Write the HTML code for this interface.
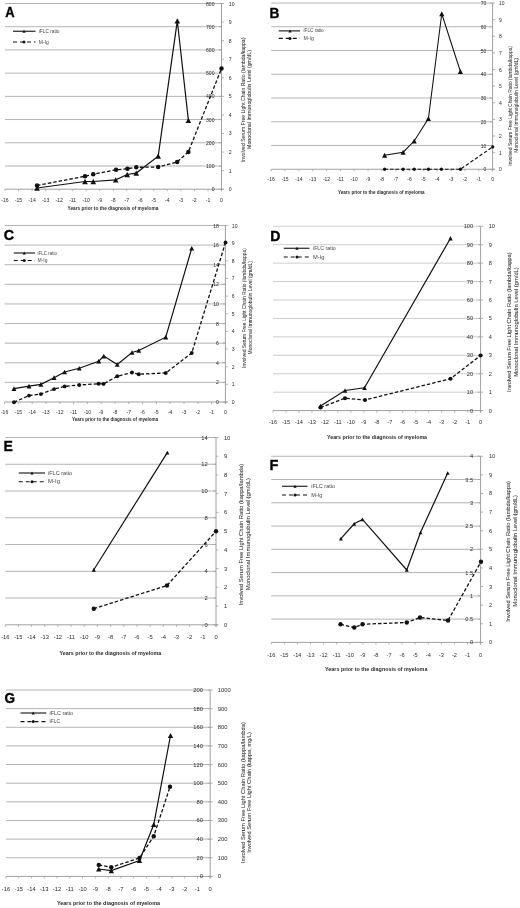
<!DOCTYPE html>
<html><head><meta charset="utf-8"><style>
html,body{margin:0;padding:0;background:#fff;}
svg{display:block;filter:grayscale(1);}
text{font-family:"Liberation Sans", sans-serif;}
</style></head><body>
<svg width="520" height="908" viewBox="0 0 520 908">
<rect width="520" height="908" fill="#fff"/>
<line x1="5" y1="165.99" x2="221.5" y2="165.99" stroke="#b4b4b4" stroke-width="1"/>
<line x1="5" y1="142.77" x2="221.5" y2="142.77" stroke="#b4b4b4" stroke-width="1"/>
<line x1="5" y1="119.56" x2="221.5" y2="119.56" stroke="#b4b4b4" stroke-width="1"/>
<line x1="5" y1="96.35" x2="221.5" y2="96.35" stroke="#b4b4b4" stroke-width="1"/>
<line x1="5" y1="73.14" x2="221.5" y2="73.14" stroke="#b4b4b4" stroke-width="1"/>
<line x1="5" y1="49.93" x2="221.5" y2="49.93" stroke="#b4b4b4" stroke-width="1"/>
<line x1="5" y1="26.71" x2="221.5" y2="26.71" stroke="#b4b4b4" stroke-width="1"/>
<line x1="5" y1="3.5" x2="221.5" y2="3.5" stroke="#b4b4b4" stroke-width="1"/>
<line x1="5" y1="189.2" x2="223.5" y2="189.2" stroke="#a0a0a0" stroke-width="1"/>
<line x1="5" y1="189.2" x2="5" y2="191.2" stroke="#a0a0a0" stroke-width="0.8"/>
<line x1="18.53" y1="189.2" x2="18.53" y2="191.2" stroke="#a0a0a0" stroke-width="0.8"/>
<line x1="32.06" y1="189.2" x2="32.06" y2="191.2" stroke="#a0a0a0" stroke-width="0.8"/>
<line x1="45.59" y1="189.2" x2="45.59" y2="191.2" stroke="#a0a0a0" stroke-width="0.8"/>
<line x1="59.12" y1="189.2" x2="59.12" y2="191.2" stroke="#a0a0a0" stroke-width="0.8"/>
<line x1="72.66" y1="189.2" x2="72.66" y2="191.2" stroke="#a0a0a0" stroke-width="0.8"/>
<line x1="86.19" y1="189.2" x2="86.19" y2="191.2" stroke="#a0a0a0" stroke-width="0.8"/>
<line x1="99.72" y1="189.2" x2="99.72" y2="191.2" stroke="#a0a0a0" stroke-width="0.8"/>
<line x1="113.25" y1="189.2" x2="113.25" y2="191.2" stroke="#a0a0a0" stroke-width="0.8"/>
<line x1="126.78" y1="189.2" x2="126.78" y2="191.2" stroke="#a0a0a0" stroke-width="0.8"/>
<line x1="140.31" y1="189.2" x2="140.31" y2="191.2" stroke="#a0a0a0" stroke-width="0.8"/>
<line x1="153.84" y1="189.2" x2="153.84" y2="191.2" stroke="#a0a0a0" stroke-width="0.8"/>
<line x1="167.38" y1="189.2" x2="167.38" y2="191.2" stroke="#a0a0a0" stroke-width="0.8"/>
<line x1="180.91" y1="189.2" x2="180.91" y2="191.2" stroke="#a0a0a0" stroke-width="0.8"/>
<line x1="194.44" y1="189.2" x2="194.44" y2="191.2" stroke="#a0a0a0" stroke-width="0.8"/>
<line x1="207.97" y1="189.2" x2="207.97" y2="191.2" stroke="#a0a0a0" stroke-width="0.8"/>
<line x1="221.5" y1="189.2" x2="221.5" y2="191.2" stroke="#a0a0a0" stroke-width="0.8"/>
<line x1="221.5" y1="3.5" x2="221.5" y2="191.2" stroke="#a0a0a0" stroke-width="1"/>
<line x1="219" y1="189.2" x2="221.5" y2="189.2" stroke="#a0a0a0" stroke-width="0.8"/>
<text x="214.5" y="189.2" font-size="5.1" text-anchor="end" font-weight="normal" fill="#2a2a2a" dominant-baseline="central" >0</text>
<line x1="219" y1="165.99" x2="221.5" y2="165.99" stroke="#a0a0a0" stroke-width="0.8"/>
<text x="214.5" y="165.99" font-size="5.1" text-anchor="end" font-weight="normal" fill="#2a2a2a" dominant-baseline="central" >100</text>
<line x1="219" y1="142.77" x2="221.5" y2="142.77" stroke="#a0a0a0" stroke-width="0.8"/>
<text x="214.5" y="142.77" font-size="5.1" text-anchor="end" font-weight="normal" fill="#2a2a2a" dominant-baseline="central" >200</text>
<line x1="219" y1="119.56" x2="221.5" y2="119.56" stroke="#a0a0a0" stroke-width="0.8"/>
<text x="214.5" y="119.56" font-size="5.1" text-anchor="end" font-weight="normal" fill="#2a2a2a" dominant-baseline="central" >300</text>
<line x1="219" y1="96.35" x2="221.5" y2="96.35" stroke="#a0a0a0" stroke-width="0.8"/>
<text x="214.5" y="96.35" font-size="5.1" text-anchor="end" font-weight="normal" fill="#2a2a2a" dominant-baseline="central" >400</text>
<line x1="219" y1="73.14" x2="221.5" y2="73.14" stroke="#a0a0a0" stroke-width="0.8"/>
<text x="214.5" y="73.14" font-size="5.1" text-anchor="end" font-weight="normal" fill="#2a2a2a" dominant-baseline="central" >500</text>
<line x1="219" y1="49.93" x2="221.5" y2="49.93" stroke="#a0a0a0" stroke-width="0.8"/>
<text x="214.5" y="49.93" font-size="5.1" text-anchor="end" font-weight="normal" fill="#2a2a2a" dominant-baseline="central" >600</text>
<line x1="219" y1="26.71" x2="221.5" y2="26.71" stroke="#a0a0a0" stroke-width="0.8"/>
<text x="214.5" y="26.71" font-size="5.1" text-anchor="end" font-weight="normal" fill="#2a2a2a" dominant-baseline="central" >700</text>
<line x1="219" y1="3.5" x2="221.5" y2="3.5" stroke="#a0a0a0" stroke-width="0.8"/>
<text x="214.5" y="3.5" font-size="5.1" text-anchor="end" font-weight="normal" fill="#2a2a2a" dominant-baseline="central" >800</text>
<line x1="221.5" y1="189.2" x2="224" y2="189.2" stroke="#a0a0a0" stroke-width="0.8"/>
<text x="228.8" y="189.2" font-size="5.1" text-anchor="start" font-weight="normal" fill="#2a2a2a" dominant-baseline="central" >0</text>
<line x1="221.5" y1="170.63" x2="224" y2="170.63" stroke="#a0a0a0" stroke-width="0.8"/>
<text x="228.8" y="170.63" font-size="5.1" text-anchor="start" font-weight="normal" fill="#2a2a2a" dominant-baseline="central" >1</text>
<line x1="221.5" y1="152.06" x2="224" y2="152.06" stroke="#a0a0a0" stroke-width="0.8"/>
<text x="228.8" y="152.06" font-size="5.1" text-anchor="start" font-weight="normal" fill="#2a2a2a" dominant-baseline="central" >2</text>
<line x1="221.5" y1="133.49" x2="224" y2="133.49" stroke="#a0a0a0" stroke-width="0.8"/>
<text x="228.8" y="133.49" font-size="5.1" text-anchor="start" font-weight="normal" fill="#2a2a2a" dominant-baseline="central" >3</text>
<line x1="221.5" y1="114.92" x2="224" y2="114.92" stroke="#a0a0a0" stroke-width="0.8"/>
<text x="228.8" y="114.92" font-size="5.1" text-anchor="start" font-weight="normal" fill="#2a2a2a" dominant-baseline="central" >4</text>
<line x1="221.5" y1="96.35" x2="224" y2="96.35" stroke="#a0a0a0" stroke-width="0.8"/>
<text x="228.8" y="96.35" font-size="5.1" text-anchor="start" font-weight="normal" fill="#2a2a2a" dominant-baseline="central" >5</text>
<line x1="221.5" y1="77.78" x2="224" y2="77.78" stroke="#a0a0a0" stroke-width="0.8"/>
<text x="228.8" y="77.78" font-size="5.1" text-anchor="start" font-weight="normal" fill="#2a2a2a" dominant-baseline="central" >6</text>
<line x1="221.5" y1="59.21" x2="224" y2="59.21" stroke="#a0a0a0" stroke-width="0.8"/>
<text x="228.8" y="59.21" font-size="5.1" text-anchor="start" font-weight="normal" fill="#2a2a2a" dominant-baseline="central" >7</text>
<line x1="221.5" y1="40.64" x2="224" y2="40.64" stroke="#a0a0a0" stroke-width="0.8"/>
<text x="228.8" y="40.64" font-size="5.1" text-anchor="start" font-weight="normal" fill="#2a2a2a" dominant-baseline="central" >8</text>
<line x1="221.5" y1="22.07" x2="224" y2="22.07" stroke="#a0a0a0" stroke-width="0.8"/>
<text x="228.8" y="22.07" font-size="5.1" text-anchor="start" font-weight="normal" fill="#2a2a2a" dominant-baseline="central" >9</text>
<line x1="221.5" y1="3.5" x2="224" y2="3.5" stroke="#a0a0a0" stroke-width="0.8"/>
<text x="228.8" y="3.5" font-size="5.1" text-anchor="start" font-weight="normal" fill="#2a2a2a" dominant-baseline="central" >10</text>
<text x="5" y="199.5" font-size="5.1" text-anchor="middle" font-weight="normal" fill="#2a2a2a" dominant-baseline="central" >-16</text>
<text x="18.53" y="199.5" font-size="5.1" text-anchor="middle" font-weight="normal" fill="#2a2a2a" dominant-baseline="central" >-15</text>
<text x="32.06" y="199.5" font-size="5.1" text-anchor="middle" font-weight="normal" fill="#2a2a2a" dominant-baseline="central" >-14</text>
<text x="45.59" y="199.5" font-size="5.1" text-anchor="middle" font-weight="normal" fill="#2a2a2a" dominant-baseline="central" >-13</text>
<text x="59.12" y="199.5" font-size="5.1" text-anchor="middle" font-weight="normal" fill="#2a2a2a" dominant-baseline="central" >-12</text>
<text x="72.66" y="199.5" font-size="5.1" text-anchor="middle" font-weight="normal" fill="#2a2a2a" dominant-baseline="central" >-11</text>
<text x="86.19" y="199.5" font-size="5.1" text-anchor="middle" font-weight="normal" fill="#2a2a2a" dominant-baseline="central" >-10</text>
<text x="99.72" y="199.5" font-size="5.1" text-anchor="middle" font-weight="normal" fill="#2a2a2a" dominant-baseline="central" >-9</text>
<text x="113.25" y="199.5" font-size="5.1" text-anchor="middle" font-weight="normal" fill="#2a2a2a" dominant-baseline="central" >-8</text>
<text x="126.78" y="199.5" font-size="5.1" text-anchor="middle" font-weight="normal" fill="#2a2a2a" dominant-baseline="central" >-7</text>
<text x="140.31" y="199.5" font-size="5.1" text-anchor="middle" font-weight="normal" fill="#2a2a2a" dominant-baseline="central" >-6</text>
<text x="153.84" y="199.5" font-size="5.1" text-anchor="middle" font-weight="normal" fill="#2a2a2a" dominant-baseline="central" >-5</text>
<text x="167.38" y="199.5" font-size="5.1" text-anchor="middle" font-weight="normal" fill="#2a2a2a" dominant-baseline="central" >-4</text>
<text x="180.91" y="199.5" font-size="5.1" text-anchor="middle" font-weight="normal" fill="#2a2a2a" dominant-baseline="central" >-3</text>
<text x="194.44" y="199.5" font-size="5.1" text-anchor="middle" font-weight="normal" fill="#2a2a2a" dominant-baseline="central" >-2</text>
<text x="207.97" y="199.5" font-size="5.1" text-anchor="middle" font-weight="normal" fill="#2a2a2a" dominant-baseline="central" >-1</text>
<text x="221.5" y="199.5" font-size="5.1" text-anchor="middle" font-weight="normal" fill="#2a2a2a" dominant-baseline="central" >0</text>
<text x="67.5" y="207.95" font-size="6.2" font-weight="bold" fill="#2a2a2a" dominant-baseline="central" textLength="90.8" lengthAdjust="spacingAndGlyphs">Years prior to the diagnosis of myeloma</text>
<text transform="translate(242.95,99.9) rotate(-90)" x="0" y="0" font-size="5.42" text-anchor="middle" fill="#2a2a2a" stroke="#333" stroke-width="0.04" dominant-baseline="central" textLength="124.6" lengthAdjust="spacingAndGlyphs">Involved Serum Free Light Chain Ratio (lambda/kappa)</text>
<text transform="translate(248.5,99.45) rotate(-90)" x="0" y="0" font-size="5.42" text-anchor="middle" fill="#2a2a2a" stroke="#333" stroke-width="0.04" dominant-baseline="central" textLength="98.9" lengthAdjust="spacingAndGlyphs">Monoclonal Immunoglobulin Level (gm/dL)</text>
<text transform="translate(5.13,17.36) scale(0.9011,1)" x="0" y="0" font-size="14.41" font-weight="bold" fill="#000" stroke="#000" stroke-width="0.35">A</text>
<line x1="13" y1="31.25" x2="35.5" y2="31.25" stroke="#111" stroke-width="1.1"/>
<path d="M24,29.73 L25.6,32.77 L22.4,32.77 Z" fill="#111"/>
<text x="38.75" y="31.25" font-size="4.5" text-anchor="start" font-weight="normal" fill="#444" dominant-baseline="central" textLength="20.75" lengthAdjust="spacingAndGlyphs">iFLC ratio</text>
<line x1="13" y1="42" x2="35.5" y2="42" stroke="#111" stroke-width="1.2" stroke-dasharray="4,3"/>
<circle cx="24" cy="42" r="1.5" fill="#111"/>
<text x="38.75" y="42" font-size="4.5" text-anchor="start" font-weight="normal" fill="#444" dominant-baseline="central" textLength="10" lengthAdjust="spacingAndGlyphs">M-Ig</text>
<path d="M37,188 L85,181.5 L93.25,181.5 L115.7,179.85 L127.2,174.5 L136.25,173.1 L158.2,156.2 L177.3,20.8 L188.4,120.4" fill="none" stroke="#111" stroke-width="1.2"/>
<path d="M37,185.5 L85,176.25 L93.25,174.25 L116.05,169.75 L127.4,168.75 L136.25,167.3 L158.2,167.1 L177.2,161.9 L188.4,151.9 L221.5,68.5" fill="none" stroke="#111" stroke-width="1.3" stroke-dasharray="3.5,2"/>
<path d="M37,185.34 L39.8,190.66 L34.2,190.66 Z" fill="#111"/>
<path d="M85,178.84 L87.8,184.16 L82.2,184.16 Z" fill="#111"/>
<path d="M93.25,178.84 L96.05,184.16 L90.45,184.16 Z" fill="#111"/>
<path d="M115.7,177.19 L118.5,182.51 L112.9,182.51 Z" fill="#111"/>
<path d="M127.2,171.84 L130,177.16 L124.4,177.16 Z" fill="#111"/>
<path d="M136.25,170.44 L139.05,175.76 L133.45,175.76 Z" fill="#111"/>
<path d="M158.2,153.54 L161,158.86 L155.4,158.86 Z" fill="#111"/>
<path d="M177.3,18.14 L180.1,23.46 L174.5,23.46 Z" fill="#111"/>
<path d="M188.4,117.74 L191.2,123.06 L185.6,123.06 Z" fill="#111"/>
<circle cx="37" cy="185.5" r="2.25" fill="#111"/>
<circle cx="85" cy="176.25" r="2.25" fill="#111"/>
<circle cx="93.25" cy="174.25" r="2.25" fill="#111"/>
<circle cx="116.05" cy="169.75" r="2.25" fill="#111"/>
<circle cx="127.4" cy="168.75" r="2.25" fill="#111"/>
<circle cx="136.25" cy="167.3" r="2.25" fill="#111"/>
<circle cx="158.2" cy="167.1" r="2.25" fill="#111"/>
<circle cx="177.2" cy="161.9" r="2.25" fill="#111"/>
<circle cx="188.4" cy="151.9" r="2.25" fill="#111"/>
<circle cx="221.5" cy="68.5" r="2.25" fill="#111"/>
<line x1="271.2" y1="145.5" x2="492.6" y2="145.5" stroke="#b4b4b4" stroke-width="1"/>
<line x1="271.2" y1="121.75" x2="492.6" y2="121.75" stroke="#b4b4b4" stroke-width="1"/>
<line x1="271.2" y1="98" x2="492.6" y2="98" stroke="#b4b4b4" stroke-width="1"/>
<line x1="271.2" y1="74.25" x2="492.6" y2="74.25" stroke="#b4b4b4" stroke-width="1"/>
<line x1="271.2" y1="50.5" x2="492.6" y2="50.5" stroke="#b4b4b4" stroke-width="1"/>
<line x1="271.2" y1="26.75" x2="492.6" y2="26.75" stroke="#b4b4b4" stroke-width="1"/>
<line x1="271.2" y1="3" x2="492.6" y2="3" stroke="#b4b4b4" stroke-width="1"/>
<line x1="271.2" y1="169.25" x2="494.6" y2="169.25" stroke="#a0a0a0" stroke-width="1"/>
<line x1="271.2" y1="169.25" x2="271.2" y2="171.25" stroke="#a0a0a0" stroke-width="0.8"/>
<line x1="285.04" y1="169.25" x2="285.04" y2="171.25" stroke="#a0a0a0" stroke-width="0.8"/>
<line x1="298.88" y1="169.25" x2="298.88" y2="171.25" stroke="#a0a0a0" stroke-width="0.8"/>
<line x1="312.71" y1="169.25" x2="312.71" y2="171.25" stroke="#a0a0a0" stroke-width="0.8"/>
<line x1="326.55" y1="169.25" x2="326.55" y2="171.25" stroke="#a0a0a0" stroke-width="0.8"/>
<line x1="340.39" y1="169.25" x2="340.39" y2="171.25" stroke="#a0a0a0" stroke-width="0.8"/>
<line x1="354.23" y1="169.25" x2="354.23" y2="171.25" stroke="#a0a0a0" stroke-width="0.8"/>
<line x1="368.06" y1="169.25" x2="368.06" y2="171.25" stroke="#a0a0a0" stroke-width="0.8"/>
<line x1="381.9" y1="169.25" x2="381.9" y2="171.25" stroke="#a0a0a0" stroke-width="0.8"/>
<line x1="395.74" y1="169.25" x2="395.74" y2="171.25" stroke="#a0a0a0" stroke-width="0.8"/>
<line x1="409.58" y1="169.25" x2="409.58" y2="171.25" stroke="#a0a0a0" stroke-width="0.8"/>
<line x1="423.41" y1="169.25" x2="423.41" y2="171.25" stroke="#a0a0a0" stroke-width="0.8"/>
<line x1="437.25" y1="169.25" x2="437.25" y2="171.25" stroke="#a0a0a0" stroke-width="0.8"/>
<line x1="451.09" y1="169.25" x2="451.09" y2="171.25" stroke="#a0a0a0" stroke-width="0.8"/>
<line x1="464.93" y1="169.25" x2="464.93" y2="171.25" stroke="#a0a0a0" stroke-width="0.8"/>
<line x1="478.76" y1="169.25" x2="478.76" y2="171.25" stroke="#a0a0a0" stroke-width="0.8"/>
<line x1="492.6" y1="169.25" x2="492.6" y2="171.25" stroke="#a0a0a0" stroke-width="0.8"/>
<line x1="492.6" y1="3" x2="492.6" y2="171.25" stroke="#a0a0a0" stroke-width="1"/>
<line x1="490.1" y1="169.25" x2="492.6" y2="169.25" stroke="#a0a0a0" stroke-width="0.8"/>
<text x="486.4" y="169.25" font-size="5" text-anchor="end" font-weight="normal" fill="#2a2a2a" dominant-baseline="central" >0</text>
<line x1="490.1" y1="145.5" x2="492.6" y2="145.5" stroke="#a0a0a0" stroke-width="0.8"/>
<text x="486.4" y="145.5" font-size="5" text-anchor="end" font-weight="normal" fill="#2a2a2a" dominant-baseline="central" >10</text>
<line x1="490.1" y1="121.75" x2="492.6" y2="121.75" stroke="#a0a0a0" stroke-width="0.8"/>
<text x="486.4" y="121.75" font-size="5" text-anchor="end" font-weight="normal" fill="#2a2a2a" dominant-baseline="central" >20</text>
<line x1="490.1" y1="98" x2="492.6" y2="98" stroke="#a0a0a0" stroke-width="0.8"/>
<text x="486.4" y="98" font-size="5" text-anchor="end" font-weight="normal" fill="#2a2a2a" dominant-baseline="central" >30</text>
<line x1="490.1" y1="74.25" x2="492.6" y2="74.25" stroke="#a0a0a0" stroke-width="0.8"/>
<text x="486.4" y="74.25" font-size="5" text-anchor="end" font-weight="normal" fill="#2a2a2a" dominant-baseline="central" >40</text>
<line x1="490.1" y1="50.5" x2="492.6" y2="50.5" stroke="#a0a0a0" stroke-width="0.8"/>
<text x="486.4" y="50.5" font-size="5" text-anchor="end" font-weight="normal" fill="#2a2a2a" dominant-baseline="central" >50</text>
<line x1="490.1" y1="26.75" x2="492.6" y2="26.75" stroke="#a0a0a0" stroke-width="0.8"/>
<text x="486.4" y="26.75" font-size="5" text-anchor="end" font-weight="normal" fill="#2a2a2a" dominant-baseline="central" >60</text>
<line x1="490.1" y1="3" x2="492.6" y2="3" stroke="#a0a0a0" stroke-width="0.8"/>
<text x="486.4" y="3" font-size="5" text-anchor="end" font-weight="normal" fill="#2a2a2a" dominant-baseline="central" >70</text>
<line x1="492.6" y1="169.25" x2="495.1" y2="169.25" stroke="#a0a0a0" stroke-width="0.8"/>
<text x="499.1" y="169.25" font-size="5" text-anchor="start" font-weight="normal" fill="#2a2a2a" dominant-baseline="central" >0</text>
<line x1="492.6" y1="152.62" x2="495.1" y2="152.62" stroke="#a0a0a0" stroke-width="0.8"/>
<text x="499.1" y="152.62" font-size="5" text-anchor="start" font-weight="normal" fill="#2a2a2a" dominant-baseline="central" >1</text>
<line x1="492.6" y1="136" x2="495.1" y2="136" stroke="#a0a0a0" stroke-width="0.8"/>
<text x="499.1" y="136" font-size="5" text-anchor="start" font-weight="normal" fill="#2a2a2a" dominant-baseline="central" >2</text>
<line x1="492.6" y1="119.38" x2="495.1" y2="119.38" stroke="#a0a0a0" stroke-width="0.8"/>
<text x="499.1" y="119.38" font-size="5" text-anchor="start" font-weight="normal" fill="#2a2a2a" dominant-baseline="central" >3</text>
<line x1="492.6" y1="102.75" x2="495.1" y2="102.75" stroke="#a0a0a0" stroke-width="0.8"/>
<text x="499.1" y="102.75" font-size="5" text-anchor="start" font-weight="normal" fill="#2a2a2a" dominant-baseline="central" >4</text>
<line x1="492.6" y1="86.12" x2="495.1" y2="86.12" stroke="#a0a0a0" stroke-width="0.8"/>
<text x="499.1" y="86.12" font-size="5" text-anchor="start" font-weight="normal" fill="#2a2a2a" dominant-baseline="central" >5</text>
<line x1="492.6" y1="69.5" x2="495.1" y2="69.5" stroke="#a0a0a0" stroke-width="0.8"/>
<text x="499.1" y="69.5" font-size="5" text-anchor="start" font-weight="normal" fill="#2a2a2a" dominant-baseline="central" >6</text>
<line x1="492.6" y1="52.88" x2="495.1" y2="52.88" stroke="#a0a0a0" stroke-width="0.8"/>
<text x="499.1" y="52.88" font-size="5" text-anchor="start" font-weight="normal" fill="#2a2a2a" dominant-baseline="central" >7</text>
<line x1="492.6" y1="36.25" x2="495.1" y2="36.25" stroke="#a0a0a0" stroke-width="0.8"/>
<text x="499.1" y="36.25" font-size="5" text-anchor="start" font-weight="normal" fill="#2a2a2a" dominant-baseline="central" >8</text>
<line x1="492.6" y1="19.62" x2="495.1" y2="19.62" stroke="#a0a0a0" stroke-width="0.8"/>
<text x="499.1" y="19.62" font-size="5" text-anchor="start" font-weight="normal" fill="#2a2a2a" dominant-baseline="central" >9</text>
<line x1="492.6" y1="3" x2="495.1" y2="3" stroke="#a0a0a0" stroke-width="0.8"/>
<text x="499.1" y="3" font-size="5" text-anchor="start" font-weight="normal" fill="#2a2a2a" dominant-baseline="central" >10</text>
<text x="271.2" y="178.8" font-size="5" text-anchor="middle" font-weight="normal" fill="#2a2a2a" dominant-baseline="central" >-16</text>
<text x="285.04" y="178.8" font-size="5" text-anchor="middle" font-weight="normal" fill="#2a2a2a" dominant-baseline="central" >-15</text>
<text x="298.88" y="178.8" font-size="5" text-anchor="middle" font-weight="normal" fill="#2a2a2a" dominant-baseline="central" >-14</text>
<text x="312.71" y="178.8" font-size="5" text-anchor="middle" font-weight="normal" fill="#2a2a2a" dominant-baseline="central" >-13</text>
<text x="326.55" y="178.8" font-size="5" text-anchor="middle" font-weight="normal" fill="#2a2a2a" dominant-baseline="central" >-12</text>
<text x="340.39" y="178.8" font-size="5" text-anchor="middle" font-weight="normal" fill="#2a2a2a" dominant-baseline="central" >-11</text>
<text x="354.23" y="178.8" font-size="5" text-anchor="middle" font-weight="normal" fill="#2a2a2a" dominant-baseline="central" >-10</text>
<text x="368.06" y="178.8" font-size="5" text-anchor="middle" font-weight="normal" fill="#2a2a2a" dominant-baseline="central" >-9</text>
<text x="381.9" y="178.8" font-size="5" text-anchor="middle" font-weight="normal" fill="#2a2a2a" dominant-baseline="central" >-8</text>
<text x="395.74" y="178.8" font-size="5" text-anchor="middle" font-weight="normal" fill="#2a2a2a" dominant-baseline="central" >-7</text>
<text x="409.58" y="178.8" font-size="5" text-anchor="middle" font-weight="normal" fill="#2a2a2a" dominant-baseline="central" >-6</text>
<text x="423.41" y="178.8" font-size="5" text-anchor="middle" font-weight="normal" fill="#2a2a2a" dominant-baseline="central" >-5</text>
<text x="437.25" y="178.8" font-size="5" text-anchor="middle" font-weight="normal" fill="#2a2a2a" dominant-baseline="central" >-4</text>
<text x="451.09" y="178.8" font-size="5" text-anchor="middle" font-weight="normal" fill="#2a2a2a" dominant-baseline="central" >-3</text>
<text x="464.93" y="178.8" font-size="5" text-anchor="middle" font-weight="normal" fill="#2a2a2a" dominant-baseline="central" >-2</text>
<text x="478.76" y="178.8" font-size="5" text-anchor="middle" font-weight="normal" fill="#2a2a2a" dominant-baseline="central" >-1</text>
<text x="492.6" y="178.8" font-size="5" text-anchor="middle" font-weight="normal" fill="#2a2a2a" dominant-baseline="central" >0</text>
<text x="338" y="191.4" font-size="6.2" font-weight="bold" fill="#2a2a2a" dominant-baseline="central" textLength="86.5" lengthAdjust="spacingAndGlyphs">Years prior to the diagnosis of myeloma</text>
<text transform="translate(509.9,105.8) rotate(-90)" x="0" y="0" font-size="5.21" text-anchor="middle" fill="#2a2a2a" stroke="#333" stroke-width="0.04" dominant-baseline="central" textLength="119.8" lengthAdjust="spacingAndGlyphs">Involved Serum Free Light Chain Ratio (lambda/kappa)</text>
<text transform="translate(516.25,105.4) rotate(-90)" x="0" y="0" font-size="5.21" text-anchor="middle" fill="#2a2a2a" stroke="#333" stroke-width="0.04" dominant-baseline="central" textLength="94.8" lengthAdjust="spacingAndGlyphs">Monoclonal Immunoglobulin Level (gm/dL)</text>
<text transform="translate(269.53,18.07) scale(0.9101,1)" x="0" y="0" font-size="15.07" font-weight="bold" fill="#000" stroke="#000" stroke-width="0.35">B</text>
<line x1="278.75" y1="30.9" x2="300" y2="30.9" stroke="#111" stroke-width="1.1"/>
<path d="M290,29.38 L291.6,32.42 L288.4,32.42 Z" fill="#111"/>
<text x="303.5" y="30.9" font-size="4.5" text-anchor="start" font-weight="normal" fill="#444" dominant-baseline="central" textLength="20.2" lengthAdjust="spacingAndGlyphs">iFLC ratio</text>
<line x1="278.75" y1="38.4" x2="300" y2="38.4" stroke="#111" stroke-width="1.2" stroke-dasharray="4,3"/>
<circle cx="290" cy="38.4" r="1.5" fill="#111"/>
<text x="303.5" y="38.4" font-size="4.5" text-anchor="start" font-weight="normal" fill="#444" dominant-baseline="central" textLength="10.4" lengthAdjust="spacingAndGlyphs">M-Ig</text>
<path d="M384.6,155.3 L403.1,152.2 L414.2,141 L428.4,118.5 L441.75,13.75 L460.4,71.5" fill="none" stroke="#111" stroke-width="1.05"/>
<path d="M384.6,169.25 L403.1,169.25 L414.2,169.25 L428.4,169.25 L441.4,169.25 L460.4,169.25 L492.7,146.9" fill="none" stroke="#111" stroke-width="1.1" stroke-dasharray="3.5,2"/>
<path d="M384.6,152.85 L387.18,157.75 L382.02,157.75 Z" fill="#111"/>
<path d="M403.1,149.75 L405.68,154.65 L400.52,154.65 Z" fill="#111"/>
<path d="M414.2,138.55 L416.78,143.45 L411.62,143.45 Z" fill="#111"/>
<path d="M428.4,116.05 L430.98,120.95 L425.82,120.95 Z" fill="#111"/>
<path d="M441.75,11.3 L444.33,16.2 L439.17,16.2 Z" fill="#111"/>
<path d="M460.4,69.05 L462.98,73.95 L457.82,73.95 Z" fill="#111"/>
<circle cx="384.6" cy="169.25" r="1.65" fill="#111"/>
<circle cx="403.1" cy="169.25" r="1.65" fill="#111"/>
<circle cx="414.2" cy="169.25" r="1.65" fill="#111"/>
<circle cx="428.4" cy="169.25" r="1.65" fill="#111"/>
<circle cx="441.4" cy="169.25" r="1.65" fill="#111"/>
<circle cx="460.4" cy="169.25" r="1.65" fill="#111"/>
<circle cx="492.7" cy="146.9" r="1.65" fill="#111"/>
<line x1="4.6" y1="382.39" x2="225.4" y2="382.39" stroke="#b4b4b4" stroke-width="1"/>
<line x1="4.6" y1="362.78" x2="225.4" y2="362.78" stroke="#b4b4b4" stroke-width="1"/>
<line x1="4.6" y1="343.17" x2="225.4" y2="343.17" stroke="#b4b4b4" stroke-width="1"/>
<line x1="4.6" y1="323.56" x2="225.4" y2="323.56" stroke="#b4b4b4" stroke-width="1"/>
<line x1="4.6" y1="303.94" x2="225.4" y2="303.94" stroke="#b4b4b4" stroke-width="1"/>
<line x1="4.6" y1="284.33" x2="225.4" y2="284.33" stroke="#b4b4b4" stroke-width="1"/>
<line x1="4.6" y1="264.72" x2="225.4" y2="264.72" stroke="#b4b4b4" stroke-width="1"/>
<line x1="4.6" y1="245.11" x2="225.4" y2="245.11" stroke="#b4b4b4" stroke-width="1"/>
<line x1="4.6" y1="225.5" x2="225.4" y2="225.5" stroke="#b4b4b4" stroke-width="1"/>
<line x1="4.6" y1="402" x2="227.4" y2="402" stroke="#a0a0a0" stroke-width="1"/>
<line x1="4.6" y1="402" x2="4.6" y2="404" stroke="#a0a0a0" stroke-width="0.8"/>
<line x1="18.4" y1="402" x2="18.4" y2="404" stroke="#a0a0a0" stroke-width="0.8"/>
<line x1="32.2" y1="402" x2="32.2" y2="404" stroke="#a0a0a0" stroke-width="0.8"/>
<line x1="46" y1="402" x2="46" y2="404" stroke="#a0a0a0" stroke-width="0.8"/>
<line x1="59.8" y1="402" x2="59.8" y2="404" stroke="#a0a0a0" stroke-width="0.8"/>
<line x1="73.6" y1="402" x2="73.6" y2="404" stroke="#a0a0a0" stroke-width="0.8"/>
<line x1="87.4" y1="402" x2="87.4" y2="404" stroke="#a0a0a0" stroke-width="0.8"/>
<line x1="101.2" y1="402" x2="101.2" y2="404" stroke="#a0a0a0" stroke-width="0.8"/>
<line x1="115" y1="402" x2="115" y2="404" stroke="#a0a0a0" stroke-width="0.8"/>
<line x1="128.8" y1="402" x2="128.8" y2="404" stroke="#a0a0a0" stroke-width="0.8"/>
<line x1="142.6" y1="402" x2="142.6" y2="404" stroke="#a0a0a0" stroke-width="0.8"/>
<line x1="156.4" y1="402" x2="156.4" y2="404" stroke="#a0a0a0" stroke-width="0.8"/>
<line x1="170.2" y1="402" x2="170.2" y2="404" stroke="#a0a0a0" stroke-width="0.8"/>
<line x1="184" y1="402" x2="184" y2="404" stroke="#a0a0a0" stroke-width="0.8"/>
<line x1="197.8" y1="402" x2="197.8" y2="404" stroke="#a0a0a0" stroke-width="0.8"/>
<line x1="211.6" y1="402" x2="211.6" y2="404" stroke="#a0a0a0" stroke-width="0.8"/>
<line x1="225.4" y1="402" x2="225.4" y2="404" stroke="#a0a0a0" stroke-width="0.8"/>
<line x1="225.4" y1="225.5" x2="225.4" y2="404" stroke="#a0a0a0" stroke-width="1"/>
<line x1="222.9" y1="402" x2="225.4" y2="402" stroke="#a0a0a0" stroke-width="0.8"/>
<text x="218.8" y="402" font-size="5.1" text-anchor="end" font-weight="normal" fill="#2a2a2a" dominant-baseline="central" >0</text>
<line x1="222.9" y1="382.39" x2="225.4" y2="382.39" stroke="#a0a0a0" stroke-width="0.8"/>
<text x="218.8" y="382.39" font-size="5.1" text-anchor="end" font-weight="normal" fill="#2a2a2a" dominant-baseline="central" >2</text>
<line x1="222.9" y1="362.78" x2="225.4" y2="362.78" stroke="#a0a0a0" stroke-width="0.8"/>
<text x="218.8" y="362.78" font-size="5.1" text-anchor="end" font-weight="normal" fill="#2a2a2a" dominant-baseline="central" >4</text>
<line x1="222.9" y1="343.17" x2="225.4" y2="343.17" stroke="#a0a0a0" stroke-width="0.8"/>
<text x="218.8" y="343.17" font-size="5.1" text-anchor="end" font-weight="normal" fill="#2a2a2a" dominant-baseline="central" >6</text>
<line x1="222.9" y1="323.56" x2="225.4" y2="323.56" stroke="#a0a0a0" stroke-width="0.8"/>
<text x="218.8" y="323.56" font-size="5.1" text-anchor="end" font-weight="normal" fill="#2a2a2a" dominant-baseline="central" >8</text>
<line x1="222.9" y1="303.94" x2="225.4" y2="303.94" stroke="#a0a0a0" stroke-width="0.8"/>
<text x="218.8" y="303.94" font-size="5.1" text-anchor="end" font-weight="normal" fill="#2a2a2a" dominant-baseline="central" >10</text>
<line x1="222.9" y1="284.33" x2="225.4" y2="284.33" stroke="#a0a0a0" stroke-width="0.8"/>
<text x="218.8" y="284.33" font-size="5.1" text-anchor="end" font-weight="normal" fill="#2a2a2a" dominant-baseline="central" >12</text>
<line x1="222.9" y1="264.72" x2="225.4" y2="264.72" stroke="#a0a0a0" stroke-width="0.8"/>
<text x="218.8" y="264.72" font-size="5.1" text-anchor="end" font-weight="normal" fill="#2a2a2a" dominant-baseline="central" >14</text>
<line x1="222.9" y1="245.11" x2="225.4" y2="245.11" stroke="#a0a0a0" stroke-width="0.8"/>
<text x="218.8" y="245.11" font-size="5.1" text-anchor="end" font-weight="normal" fill="#2a2a2a" dominant-baseline="central" >16</text>
<line x1="222.9" y1="225.5" x2="225.4" y2="225.5" stroke="#a0a0a0" stroke-width="0.8"/>
<text x="218.8" y="225.5" font-size="5.1" text-anchor="end" font-weight="normal" fill="#2a2a2a" dominant-baseline="central" >18</text>
<line x1="225.4" y1="402" x2="227.9" y2="402" stroke="#a0a0a0" stroke-width="0.8"/>
<text x="231.8" y="402" font-size="5.1" text-anchor="start" font-weight="normal" fill="#2a2a2a" dominant-baseline="central" >0</text>
<line x1="225.4" y1="384.35" x2="227.9" y2="384.35" stroke="#a0a0a0" stroke-width="0.8"/>
<text x="231.8" y="384.35" font-size="5.1" text-anchor="start" font-weight="normal" fill="#2a2a2a" dominant-baseline="central" >1</text>
<line x1="225.4" y1="366.7" x2="227.9" y2="366.7" stroke="#a0a0a0" stroke-width="0.8"/>
<text x="231.8" y="366.7" font-size="5.1" text-anchor="start" font-weight="normal" fill="#2a2a2a" dominant-baseline="central" >2</text>
<line x1="225.4" y1="349.05" x2="227.9" y2="349.05" stroke="#a0a0a0" stroke-width="0.8"/>
<text x="231.8" y="349.05" font-size="5.1" text-anchor="start" font-weight="normal" fill="#2a2a2a" dominant-baseline="central" >3</text>
<line x1="225.4" y1="331.4" x2="227.9" y2="331.4" stroke="#a0a0a0" stroke-width="0.8"/>
<text x="231.8" y="331.4" font-size="5.1" text-anchor="start" font-weight="normal" fill="#2a2a2a" dominant-baseline="central" >4</text>
<line x1="225.4" y1="313.75" x2="227.9" y2="313.75" stroke="#a0a0a0" stroke-width="0.8"/>
<text x="231.8" y="313.75" font-size="5.1" text-anchor="start" font-weight="normal" fill="#2a2a2a" dominant-baseline="central" >5</text>
<line x1="225.4" y1="296.1" x2="227.9" y2="296.1" stroke="#a0a0a0" stroke-width="0.8"/>
<text x="231.8" y="296.1" font-size="5.1" text-anchor="start" font-weight="normal" fill="#2a2a2a" dominant-baseline="central" >6</text>
<line x1="225.4" y1="278.45" x2="227.9" y2="278.45" stroke="#a0a0a0" stroke-width="0.8"/>
<text x="231.8" y="278.45" font-size="5.1" text-anchor="start" font-weight="normal" fill="#2a2a2a" dominant-baseline="central" >7</text>
<line x1="225.4" y1="260.8" x2="227.9" y2="260.8" stroke="#a0a0a0" stroke-width="0.8"/>
<text x="231.8" y="260.8" font-size="5.1" text-anchor="start" font-weight="normal" fill="#2a2a2a" dominant-baseline="central" >8</text>
<line x1="225.4" y1="243.15" x2="227.9" y2="243.15" stroke="#a0a0a0" stroke-width="0.8"/>
<text x="231.8" y="243.15" font-size="5.1" text-anchor="start" font-weight="normal" fill="#2a2a2a" dominant-baseline="central" >9</text>
<line x1="225.4" y1="225.5" x2="227.9" y2="225.5" stroke="#a0a0a0" stroke-width="0.8"/>
<text x="231.8" y="225.5" font-size="5.1" text-anchor="start" font-weight="normal" fill="#2a2a2a" dominant-baseline="central" >10</text>
<text x="4.6" y="412" font-size="5.1" text-anchor="middle" font-weight="normal" fill="#2a2a2a" dominant-baseline="central" >-16</text>
<text x="18.4" y="412" font-size="5.1" text-anchor="middle" font-weight="normal" fill="#2a2a2a" dominant-baseline="central" >-15</text>
<text x="32.2" y="412" font-size="5.1" text-anchor="middle" font-weight="normal" fill="#2a2a2a" dominant-baseline="central" >-14</text>
<text x="46" y="412" font-size="5.1" text-anchor="middle" font-weight="normal" fill="#2a2a2a" dominant-baseline="central" >-13</text>
<text x="59.8" y="412" font-size="5.1" text-anchor="middle" font-weight="normal" fill="#2a2a2a" dominant-baseline="central" >-12</text>
<text x="73.6" y="412" font-size="5.1" text-anchor="middle" font-weight="normal" fill="#2a2a2a" dominant-baseline="central" >-11</text>
<text x="87.4" y="412" font-size="5.1" text-anchor="middle" font-weight="normal" fill="#2a2a2a" dominant-baseline="central" >-10</text>
<text x="101.2" y="412" font-size="5.1" text-anchor="middle" font-weight="normal" fill="#2a2a2a" dominant-baseline="central" >-9</text>
<text x="115" y="412" font-size="5.1" text-anchor="middle" font-weight="normal" fill="#2a2a2a" dominant-baseline="central" >-8</text>
<text x="128.8" y="412" font-size="5.1" text-anchor="middle" font-weight="normal" fill="#2a2a2a" dominant-baseline="central" >-7</text>
<text x="142.6" y="412" font-size="5.1" text-anchor="middle" font-weight="normal" fill="#2a2a2a" dominant-baseline="central" >-6</text>
<text x="156.4" y="412" font-size="5.1" text-anchor="middle" font-weight="normal" fill="#2a2a2a" dominant-baseline="central" >-5</text>
<text x="170.2" y="412" font-size="5.1" text-anchor="middle" font-weight="normal" fill="#2a2a2a" dominant-baseline="central" >-4</text>
<text x="184" y="412" font-size="5.1" text-anchor="middle" font-weight="normal" fill="#2a2a2a" dominant-baseline="central" >-3</text>
<text x="197.8" y="412" font-size="5.1" text-anchor="middle" font-weight="normal" fill="#2a2a2a" dominant-baseline="central" >-2</text>
<text x="211.6" y="412" font-size="5.1" text-anchor="middle" font-weight="normal" fill="#2a2a2a" dominant-baseline="central" >-1</text>
<text x="225.4" y="412" font-size="5.1" text-anchor="middle" font-weight="normal" fill="#2a2a2a" dominant-baseline="central" >0</text>
<text x="72" y="418.4" font-size="6.2" font-weight="bold" fill="#2a2a2a" dominant-baseline="central" textLength="86" lengthAdjust="spacingAndGlyphs">Years prior to the diagnosis of myeloma</text>
<text transform="translate(243.8,308) rotate(-90)" x="0" y="0" font-size="5.21" text-anchor="middle" fill="#2a2a2a" stroke="#333" stroke-width="0.04" dominant-baseline="central" textLength="119.8" lengthAdjust="spacingAndGlyphs">Involved Serum Free Light Chain Ratio (lambda/kappa)</text>
<text transform="translate(249.9,307.75) rotate(-90)" x="0" y="0" font-size="5.21" text-anchor="middle" fill="#2a2a2a" stroke="#333" stroke-width="0.04" dominant-baseline="central" textLength="93.5" lengthAdjust="spacingAndGlyphs">Monoclonal Immunoglobulin Level (gm/dL)</text>
<text transform="translate(3.86,240.17) scale(0.9550,1)" x="0" y="0" font-size="14.99" font-weight="bold" fill="#000" stroke="#000" stroke-width="0.35">C</text>
<line x1="13.75" y1="253" x2="35" y2="253" stroke="#111" stroke-width="1.1"/>
<path d="M24.25,251.48 L25.85,254.52 L22.65,254.52 Z" fill="#111"/>
<text x="37.5" y="253" font-size="4.5" text-anchor="start" font-weight="normal" fill="#444" dominant-baseline="central" textLength="19.5" lengthAdjust="spacingAndGlyphs">iFLC ratio</text>
<line x1="13.75" y1="260.5" x2="35" y2="260.5" stroke="#111" stroke-width="1.2" stroke-dasharray="4,3"/>
<circle cx="24.25" cy="260.5" r="1.5" fill="#111"/>
<text x="37.5" y="260.5" font-size="4.5" text-anchor="start" font-weight="normal" fill="#444" dominant-baseline="central" textLength="10" lengthAdjust="spacingAndGlyphs">M-Ig</text>
<path d="M14,388.7 L29,386.2 L40.9,384.4 L54.1,377.7 L64.6,372 L79.25,368.25 L98.75,361.2 L103.8,356.1 L117.25,364.5 L132,352.5 L138.75,350.5 L165.75,337.2 L191.75,248.25" fill="none" stroke="#111" stroke-width="1.2"/>
<path d="M14,402.2 L29,395.6 L40.9,394.1 L54.1,389.1 L64.6,386.4 L79.25,385 L98.6,383.7 L103.5,383.9 L117.25,376.3 L132,372.5 L138.75,374.25 L165.75,373 L191.75,353 L225.5,242.5" fill="none" stroke="#111" stroke-width="1.3" stroke-dasharray="3.5,2"/>
<path d="M14,386.36 L16.46,391.04 L11.54,391.04 Z" fill="#111"/>
<path d="M29,383.86 L31.46,388.54 L26.54,388.54 Z" fill="#111"/>
<path d="M40.9,382.06 L43.36,386.74 L38.44,386.74 Z" fill="#111"/>
<path d="M54.1,375.36 L56.56,380.04 L51.64,380.04 Z" fill="#111"/>
<path d="M64.6,369.66 L67.06,374.34 L62.14,374.34 Z" fill="#111"/>
<path d="M79.25,365.91 L81.71,370.59 L76.79,370.59 Z" fill="#111"/>
<path d="M98.75,358.86 L101.21,363.54 L96.29,363.54 Z" fill="#111"/>
<path d="M103.8,353.76 L106.26,358.44 L101.34,358.44 Z" fill="#111"/>
<path d="M117.25,362.16 L119.71,366.84 L114.79,366.84 Z" fill="#111"/>
<path d="M132,350.16 L134.46,354.84 L129.54,354.84 Z" fill="#111"/>
<path d="M138.75,348.16 L141.21,352.84 L136.29,352.84 Z" fill="#111"/>
<path d="M165.75,334.86 L168.21,339.54 L163.29,339.54 Z" fill="#111"/>
<path d="M191.75,245.91 L194.21,250.59 L189.29,250.59 Z" fill="#111"/>
<circle cx="14" cy="402.2" r="1.93" fill="#111"/>
<circle cx="29" cy="395.6" r="1.93" fill="#111"/>
<circle cx="40.9" cy="394.1" r="1.93" fill="#111"/>
<circle cx="54.1" cy="389.1" r="1.93" fill="#111"/>
<circle cx="64.6" cy="386.4" r="1.93" fill="#111"/>
<circle cx="79.25" cy="385" r="1.93" fill="#111"/>
<circle cx="98.6" cy="383.7" r="1.93" fill="#111"/>
<circle cx="103.5" cy="383.9" r="1.93" fill="#111"/>
<circle cx="117.25" cy="376.3" r="1.93" fill="#111"/>
<circle cx="132" cy="372.5" r="1.93" fill="#111"/>
<circle cx="138.75" cy="374.25" r="1.93" fill="#111"/>
<circle cx="165.75" cy="373" r="1.93" fill="#111"/>
<circle cx="191.75" cy="353" r="1.93" fill="#111"/>
<circle cx="225.5" cy="242.5" r="1.93" fill="#111"/>
<line x1="273" y1="392.17" x2="480.6" y2="392.17" stroke="#cdcdcd" stroke-width="1"/>
<line x1="273" y1="373.73" x2="480.6" y2="373.73" stroke="#cdcdcd" stroke-width="1"/>
<line x1="273" y1="355.3" x2="480.6" y2="355.3" stroke="#cdcdcd" stroke-width="1"/>
<line x1="273" y1="336.86" x2="480.6" y2="336.86" stroke="#cdcdcd" stroke-width="1"/>
<line x1="273" y1="318.43" x2="480.6" y2="318.43" stroke="#cdcdcd" stroke-width="1"/>
<line x1="273" y1="299.99" x2="480.6" y2="299.99" stroke="#cdcdcd" stroke-width="1"/>
<line x1="273" y1="281.56" x2="480.6" y2="281.56" stroke="#cdcdcd" stroke-width="1"/>
<line x1="273" y1="263.12" x2="480.6" y2="263.12" stroke="#cdcdcd" stroke-width="1"/>
<line x1="273" y1="244.69" x2="480.6" y2="244.69" stroke="#cdcdcd" stroke-width="1"/>
<line x1="273" y1="226.25" x2="480.6" y2="226.25" stroke="#cdcdcd" stroke-width="1"/>
<line x1="273" y1="410.6" x2="482.6" y2="410.6" stroke="#a0a0a0" stroke-width="1"/>
<line x1="273" y1="410.6" x2="273" y2="412.6" stroke="#a0a0a0" stroke-width="0.8"/>
<line x1="285.98" y1="410.6" x2="285.98" y2="412.6" stroke="#a0a0a0" stroke-width="0.8"/>
<line x1="298.95" y1="410.6" x2="298.95" y2="412.6" stroke="#a0a0a0" stroke-width="0.8"/>
<line x1="311.93" y1="410.6" x2="311.93" y2="412.6" stroke="#a0a0a0" stroke-width="0.8"/>
<line x1="324.9" y1="410.6" x2="324.9" y2="412.6" stroke="#a0a0a0" stroke-width="0.8"/>
<line x1="337.88" y1="410.6" x2="337.88" y2="412.6" stroke="#a0a0a0" stroke-width="0.8"/>
<line x1="350.85" y1="410.6" x2="350.85" y2="412.6" stroke="#a0a0a0" stroke-width="0.8"/>
<line x1="363.83" y1="410.6" x2="363.83" y2="412.6" stroke="#a0a0a0" stroke-width="0.8"/>
<line x1="376.8" y1="410.6" x2="376.8" y2="412.6" stroke="#a0a0a0" stroke-width="0.8"/>
<line x1="389.77" y1="410.6" x2="389.77" y2="412.6" stroke="#a0a0a0" stroke-width="0.8"/>
<line x1="402.75" y1="410.6" x2="402.75" y2="412.6" stroke="#a0a0a0" stroke-width="0.8"/>
<line x1="415.73" y1="410.6" x2="415.73" y2="412.6" stroke="#a0a0a0" stroke-width="0.8"/>
<line x1="428.7" y1="410.6" x2="428.7" y2="412.6" stroke="#a0a0a0" stroke-width="0.8"/>
<line x1="441.68" y1="410.6" x2="441.68" y2="412.6" stroke="#a0a0a0" stroke-width="0.8"/>
<line x1="454.65" y1="410.6" x2="454.65" y2="412.6" stroke="#a0a0a0" stroke-width="0.8"/>
<line x1="467.62" y1="410.6" x2="467.62" y2="412.6" stroke="#a0a0a0" stroke-width="0.8"/>
<line x1="480.6" y1="410.6" x2="480.6" y2="412.6" stroke="#a0a0a0" stroke-width="0.8"/>
<line x1="480.6" y1="226.25" x2="480.6" y2="412.6" stroke="#a0a0a0" stroke-width="1"/>
<line x1="478.1" y1="410.6" x2="480.6" y2="410.6" stroke="#a0a0a0" stroke-width="0.8"/>
<text x="473" y="410.6" font-size="5.6" text-anchor="end" font-weight="normal" fill="#2a2a2a" dominant-baseline="central" >0</text>
<line x1="478.1" y1="392.17" x2="480.6" y2="392.17" stroke="#a0a0a0" stroke-width="0.8"/>
<text x="473" y="392.17" font-size="5.6" text-anchor="end" font-weight="normal" fill="#2a2a2a" dominant-baseline="central" >10</text>
<line x1="478.1" y1="373.73" x2="480.6" y2="373.73" stroke="#a0a0a0" stroke-width="0.8"/>
<text x="473" y="373.73" font-size="5.6" text-anchor="end" font-weight="normal" fill="#2a2a2a" dominant-baseline="central" >20</text>
<line x1="478.1" y1="355.3" x2="480.6" y2="355.3" stroke="#a0a0a0" stroke-width="0.8"/>
<text x="473" y="355.3" font-size="5.6" text-anchor="end" font-weight="normal" fill="#2a2a2a" dominant-baseline="central" >30</text>
<line x1="478.1" y1="336.86" x2="480.6" y2="336.86" stroke="#a0a0a0" stroke-width="0.8"/>
<text x="473" y="336.86" font-size="5.6" text-anchor="end" font-weight="normal" fill="#2a2a2a" dominant-baseline="central" >40</text>
<line x1="478.1" y1="318.43" x2="480.6" y2="318.43" stroke="#a0a0a0" stroke-width="0.8"/>
<text x="473" y="318.43" font-size="5.6" text-anchor="end" font-weight="normal" fill="#2a2a2a" dominant-baseline="central" >50</text>
<line x1="478.1" y1="299.99" x2="480.6" y2="299.99" stroke="#a0a0a0" stroke-width="0.8"/>
<text x="473" y="299.99" font-size="5.6" text-anchor="end" font-weight="normal" fill="#2a2a2a" dominant-baseline="central" >60</text>
<line x1="478.1" y1="281.56" x2="480.6" y2="281.56" stroke="#a0a0a0" stroke-width="0.8"/>
<text x="473" y="281.56" font-size="5.6" text-anchor="end" font-weight="normal" fill="#2a2a2a" dominant-baseline="central" >70</text>
<line x1="478.1" y1="263.12" x2="480.6" y2="263.12" stroke="#a0a0a0" stroke-width="0.8"/>
<text x="473" y="263.12" font-size="5.6" text-anchor="end" font-weight="normal" fill="#2a2a2a" dominant-baseline="central" >80</text>
<line x1="478.1" y1="244.69" x2="480.6" y2="244.69" stroke="#a0a0a0" stroke-width="0.8"/>
<text x="473" y="244.69" font-size="5.6" text-anchor="end" font-weight="normal" fill="#2a2a2a" dominant-baseline="central" >90</text>
<line x1="478.1" y1="226.25" x2="480.6" y2="226.25" stroke="#a0a0a0" stroke-width="0.8"/>
<text x="473" y="226.25" font-size="5.6" text-anchor="end" font-weight="normal" fill="#2a2a2a" dominant-baseline="central" >100</text>
<line x1="480.6" y1="410.6" x2="483.1" y2="410.6" stroke="#a0a0a0" stroke-width="0.8"/>
<text x="488.7" y="410.6" font-size="5.6" text-anchor="start" font-weight="normal" fill="#2a2a2a" dominant-baseline="central" >0</text>
<line x1="480.6" y1="392.17" x2="483.1" y2="392.17" stroke="#a0a0a0" stroke-width="0.8"/>
<text x="488.7" y="392.17" font-size="5.6" text-anchor="start" font-weight="normal" fill="#2a2a2a" dominant-baseline="central" >1</text>
<line x1="480.6" y1="373.73" x2="483.1" y2="373.73" stroke="#a0a0a0" stroke-width="0.8"/>
<text x="488.7" y="373.73" font-size="5.6" text-anchor="start" font-weight="normal" fill="#2a2a2a" dominant-baseline="central" >2</text>
<line x1="480.6" y1="355.3" x2="483.1" y2="355.3" stroke="#a0a0a0" stroke-width="0.8"/>
<text x="488.7" y="355.3" font-size="5.6" text-anchor="start" font-weight="normal" fill="#2a2a2a" dominant-baseline="central" >3</text>
<line x1="480.6" y1="336.86" x2="483.1" y2="336.86" stroke="#a0a0a0" stroke-width="0.8"/>
<text x="488.7" y="336.86" font-size="5.6" text-anchor="start" font-weight="normal" fill="#2a2a2a" dominant-baseline="central" >4</text>
<line x1="480.6" y1="318.43" x2="483.1" y2="318.43" stroke="#a0a0a0" stroke-width="0.8"/>
<text x="488.7" y="318.43" font-size="5.6" text-anchor="start" font-weight="normal" fill="#2a2a2a" dominant-baseline="central" >5</text>
<line x1="480.6" y1="299.99" x2="483.1" y2="299.99" stroke="#a0a0a0" stroke-width="0.8"/>
<text x="488.7" y="299.99" font-size="5.6" text-anchor="start" font-weight="normal" fill="#2a2a2a" dominant-baseline="central" >6</text>
<line x1="480.6" y1="281.56" x2="483.1" y2="281.56" stroke="#a0a0a0" stroke-width="0.8"/>
<text x="488.7" y="281.56" font-size="5.6" text-anchor="start" font-weight="normal" fill="#2a2a2a" dominant-baseline="central" >7</text>
<line x1="480.6" y1="263.12" x2="483.1" y2="263.12" stroke="#a0a0a0" stroke-width="0.8"/>
<text x="488.7" y="263.12" font-size="5.6" text-anchor="start" font-weight="normal" fill="#2a2a2a" dominant-baseline="central" >8</text>
<line x1="480.6" y1="244.69" x2="483.1" y2="244.69" stroke="#a0a0a0" stroke-width="0.8"/>
<text x="488.7" y="244.69" font-size="5.6" text-anchor="start" font-weight="normal" fill="#2a2a2a" dominant-baseline="central" >9</text>
<line x1="480.6" y1="226.25" x2="483.1" y2="226.25" stroke="#a0a0a0" stroke-width="0.8"/>
<text x="488.7" y="226.25" font-size="5.6" text-anchor="start" font-weight="normal" fill="#2a2a2a" dominant-baseline="central" >10</text>
<text x="273" y="421.7" font-size="5.6" text-anchor="middle" font-weight="normal" fill="#2a2a2a" dominant-baseline="central" >-16</text>
<text x="285.98" y="421.7" font-size="5.6" text-anchor="middle" font-weight="normal" fill="#2a2a2a" dominant-baseline="central" >-15</text>
<text x="298.95" y="421.7" font-size="5.6" text-anchor="middle" font-weight="normal" fill="#2a2a2a" dominant-baseline="central" >-14</text>
<text x="311.93" y="421.7" font-size="5.6" text-anchor="middle" font-weight="normal" fill="#2a2a2a" dominant-baseline="central" >-13</text>
<text x="324.9" y="421.7" font-size="5.6" text-anchor="middle" font-weight="normal" fill="#2a2a2a" dominant-baseline="central" >-12</text>
<text x="337.88" y="421.7" font-size="5.6" text-anchor="middle" font-weight="normal" fill="#2a2a2a" dominant-baseline="central" >-11</text>
<text x="350.85" y="421.7" font-size="5.6" text-anchor="middle" font-weight="normal" fill="#2a2a2a" dominant-baseline="central" >-10</text>
<text x="363.83" y="421.7" font-size="5.6" text-anchor="middle" font-weight="normal" fill="#2a2a2a" dominant-baseline="central" >-9</text>
<text x="376.8" y="421.7" font-size="5.6" text-anchor="middle" font-weight="normal" fill="#2a2a2a" dominant-baseline="central" >-8</text>
<text x="389.77" y="421.7" font-size="5.6" text-anchor="middle" font-weight="normal" fill="#2a2a2a" dominant-baseline="central" >-7</text>
<text x="402.75" y="421.7" font-size="5.6" text-anchor="middle" font-weight="normal" fill="#2a2a2a" dominant-baseline="central" >-6</text>
<text x="415.73" y="421.7" font-size="5.6" text-anchor="middle" font-weight="normal" fill="#2a2a2a" dominant-baseline="central" >-5</text>
<text x="428.7" y="421.7" font-size="5.6" text-anchor="middle" font-weight="normal" fill="#2a2a2a" dominant-baseline="central" >-4</text>
<text x="441.68" y="421.7" font-size="5.6" text-anchor="middle" font-weight="normal" fill="#2a2a2a" dominant-baseline="central" >-3</text>
<text x="454.65" y="421.7" font-size="5.6" text-anchor="middle" font-weight="normal" fill="#2a2a2a" dominant-baseline="central" >-2</text>
<text x="467.62" y="421.7" font-size="5.6" text-anchor="middle" font-weight="normal" fill="#2a2a2a" dominant-baseline="central" >-1</text>
<text x="480.6" y="421.7" font-size="5.6" text-anchor="middle" font-weight="normal" fill="#2a2a2a" dominant-baseline="central" >0</text>
<text x="327" y="436.65" font-size="6.2" font-weight="bold" fill="#2a2a2a" dominant-baseline="central" textLength="100" lengthAdjust="spacingAndGlyphs">Years prior to the diagnosis of myeloma</text>
<text transform="translate(508.85,322.15) rotate(-90)" x="0" y="0" font-size="6.07" text-anchor="middle" fill="#2a2a2a" stroke="#333" stroke-width="0.04" dominant-baseline="central" textLength="139.5" lengthAdjust="spacingAndGlyphs">Involved Serum Free Light Chain Ratio (lambda/kappa)</text>
<text transform="translate(516.15,322) rotate(-90)" x="0" y="0" font-size="6.07" text-anchor="middle" fill="#2a2a2a" stroke="#333" stroke-width="0.04" dominant-baseline="central" textLength="109.6" lengthAdjust="spacingAndGlyphs">Monoclonal Immunoglobulin Level (gm/dL)</text>
<text transform="translate(270.26,240.56) scale(0.9801,1)" x="0" y="0" font-size="14.34" font-weight="bold" fill="#000" stroke="#000" stroke-width="0.35">D</text>
<line x1="283.75" y1="248.25" x2="309.5" y2="248.25" stroke="#111" stroke-width="1.1"/>
<path d="M297,246.73 L298.6,249.77 L295.4,249.77 Z" fill="#111"/>
<text x="313" y="248.25" font-size="4.5" text-anchor="start" font-weight="normal" fill="#444" dominant-baseline="central" textLength="22.75" lengthAdjust="spacingAndGlyphs">iFLC ratio</text>
<line x1="283.75" y1="257" x2="309.5" y2="257" stroke="#111" stroke-width="1.2" stroke-dasharray="4,3"/>
<circle cx="297" cy="257" r="1.5" fill="#111"/>
<text x="313" y="257" font-size="4.5" text-anchor="start" font-weight="normal" fill="#444" dominant-baseline="central" textLength="11.5" lengthAdjust="spacingAndGlyphs">M-Ig</text>
<path d="M320.5,406 L345,390.5 L364.5,387.75 L450.5,238.25" fill="none" stroke="#111" stroke-width="1.2"/>
<path d="M320.5,407.5 L345,398.25 L365,400 L450.5,378.75 L480.6,355.5" fill="none" stroke="#111" stroke-width="1.3" stroke-dasharray="3.5,2"/>
<path d="M320.5,403.87 L322.74,408.13 L318.26,408.13 Z" fill="#111"/>
<path d="M345,388.37 L347.24,392.63 L342.76,392.63 Z" fill="#111"/>
<path d="M364.5,385.62 L366.74,389.88 L362.26,389.88 Z" fill="#111"/>
<path d="M450.5,236.12 L452.74,240.38 L448.26,240.38 Z" fill="#111"/>
<circle cx="320.5" cy="407.5" r="2.09" fill="#111"/>
<circle cx="345" cy="398.25" r="2.09" fill="#111"/>
<circle cx="365" cy="400" r="2.09" fill="#111"/>
<circle cx="450.5" cy="378.75" r="2.09" fill="#111"/>
<circle cx="480.6" cy="355.5" r="2.09" fill="#111"/>
<line x1="5.2" y1="598.04" x2="216" y2="598.04" stroke="#b4b4b4" stroke-width="1"/>
<line x1="5.2" y1="571.29" x2="216" y2="571.29" stroke="#b4b4b4" stroke-width="1"/>
<line x1="5.2" y1="544.53" x2="216" y2="544.53" stroke="#b4b4b4" stroke-width="1"/>
<line x1="5.2" y1="517.77" x2="216" y2="517.77" stroke="#b4b4b4" stroke-width="1"/>
<line x1="5.2" y1="491.01" x2="216" y2="491.01" stroke="#b4b4b4" stroke-width="1"/>
<line x1="5.2" y1="464.26" x2="216" y2="464.26" stroke="#b4b4b4" stroke-width="1"/>
<line x1="5.2" y1="437.5" x2="216" y2="437.5" stroke="#b4b4b4" stroke-width="1"/>
<line x1="5.2" y1="624.8" x2="218" y2="624.8" stroke="#a0a0a0" stroke-width="1"/>
<line x1="5.2" y1="624.8" x2="5.2" y2="626.8" stroke="#a0a0a0" stroke-width="0.8"/>
<line x1="18.38" y1="624.8" x2="18.38" y2="626.8" stroke="#a0a0a0" stroke-width="0.8"/>
<line x1="31.55" y1="624.8" x2="31.55" y2="626.8" stroke="#a0a0a0" stroke-width="0.8"/>
<line x1="44.73" y1="624.8" x2="44.73" y2="626.8" stroke="#a0a0a0" stroke-width="0.8"/>
<line x1="57.9" y1="624.8" x2="57.9" y2="626.8" stroke="#a0a0a0" stroke-width="0.8"/>
<line x1="71.08" y1="624.8" x2="71.08" y2="626.8" stroke="#a0a0a0" stroke-width="0.8"/>
<line x1="84.25" y1="624.8" x2="84.25" y2="626.8" stroke="#a0a0a0" stroke-width="0.8"/>
<line x1="97.43" y1="624.8" x2="97.43" y2="626.8" stroke="#a0a0a0" stroke-width="0.8"/>
<line x1="110.6" y1="624.8" x2="110.6" y2="626.8" stroke="#a0a0a0" stroke-width="0.8"/>
<line x1="123.78" y1="624.8" x2="123.78" y2="626.8" stroke="#a0a0a0" stroke-width="0.8"/>
<line x1="136.95" y1="624.8" x2="136.95" y2="626.8" stroke="#a0a0a0" stroke-width="0.8"/>
<line x1="150.12" y1="624.8" x2="150.12" y2="626.8" stroke="#a0a0a0" stroke-width="0.8"/>
<line x1="163.3" y1="624.8" x2="163.3" y2="626.8" stroke="#a0a0a0" stroke-width="0.8"/>
<line x1="176.47" y1="624.8" x2="176.47" y2="626.8" stroke="#a0a0a0" stroke-width="0.8"/>
<line x1="189.65" y1="624.8" x2="189.65" y2="626.8" stroke="#a0a0a0" stroke-width="0.8"/>
<line x1="202.82" y1="624.8" x2="202.82" y2="626.8" stroke="#a0a0a0" stroke-width="0.8"/>
<line x1="216" y1="624.8" x2="216" y2="626.8" stroke="#a0a0a0" stroke-width="0.8"/>
<line x1="216" y1="437.5" x2="216" y2="626.8" stroke="#a0a0a0" stroke-width="1"/>
<line x1="213.5" y1="624.8" x2="216" y2="624.8" stroke="#a0a0a0" stroke-width="0.8"/>
<text x="207.8" y="624.8" font-size="5.8" text-anchor="end" font-weight="normal" fill="#2a2a2a" dominant-baseline="central" >0</text>
<line x1="213.5" y1="598.04" x2="216" y2="598.04" stroke="#a0a0a0" stroke-width="0.8"/>
<text x="207.8" y="598.04" font-size="5.8" text-anchor="end" font-weight="normal" fill="#2a2a2a" dominant-baseline="central" >2</text>
<line x1="213.5" y1="571.29" x2="216" y2="571.29" stroke="#a0a0a0" stroke-width="0.8"/>
<text x="207.8" y="571.29" font-size="5.8" text-anchor="end" font-weight="normal" fill="#2a2a2a" dominant-baseline="central" >4</text>
<line x1="213.5" y1="544.53" x2="216" y2="544.53" stroke="#a0a0a0" stroke-width="0.8"/>
<text x="207.8" y="544.53" font-size="5.8" text-anchor="end" font-weight="normal" fill="#2a2a2a" dominant-baseline="central" >6</text>
<line x1="213.5" y1="517.77" x2="216" y2="517.77" stroke="#a0a0a0" stroke-width="0.8"/>
<text x="207.8" y="517.77" font-size="5.8" text-anchor="end" font-weight="normal" fill="#2a2a2a" dominant-baseline="central" >8</text>
<line x1="213.5" y1="491.01" x2="216" y2="491.01" stroke="#a0a0a0" stroke-width="0.8"/>
<text x="207.8" y="491.01" font-size="5.8" text-anchor="end" font-weight="normal" fill="#2a2a2a" dominant-baseline="central" >10</text>
<line x1="213.5" y1="464.26" x2="216" y2="464.26" stroke="#a0a0a0" stroke-width="0.8"/>
<text x="207.8" y="464.26" font-size="5.8" text-anchor="end" font-weight="normal" fill="#2a2a2a" dominant-baseline="central" >12</text>
<line x1="213.5" y1="437.5" x2="216" y2="437.5" stroke="#a0a0a0" stroke-width="0.8"/>
<text x="207.8" y="437.5" font-size="5.8" text-anchor="end" font-weight="normal" fill="#2a2a2a" dominant-baseline="central" >14</text>
<line x1="216" y1="624.8" x2="218.5" y2="624.8" stroke="#a0a0a0" stroke-width="0.8"/>
<text x="223.9" y="624.8" font-size="5.8" text-anchor="start" font-weight="normal" fill="#2a2a2a" dominant-baseline="central" >0</text>
<line x1="216" y1="606.07" x2="218.5" y2="606.07" stroke="#a0a0a0" stroke-width="0.8"/>
<text x="223.9" y="606.07" font-size="5.8" text-anchor="start" font-weight="normal" fill="#2a2a2a" dominant-baseline="central" >1</text>
<line x1="216" y1="587.34" x2="218.5" y2="587.34" stroke="#a0a0a0" stroke-width="0.8"/>
<text x="223.9" y="587.34" font-size="5.8" text-anchor="start" font-weight="normal" fill="#2a2a2a" dominant-baseline="central" >2</text>
<line x1="216" y1="568.61" x2="218.5" y2="568.61" stroke="#a0a0a0" stroke-width="0.8"/>
<text x="223.9" y="568.61" font-size="5.8" text-anchor="start" font-weight="normal" fill="#2a2a2a" dominant-baseline="central" >3</text>
<line x1="216" y1="549.88" x2="218.5" y2="549.88" stroke="#a0a0a0" stroke-width="0.8"/>
<text x="223.9" y="549.88" font-size="5.8" text-anchor="start" font-weight="normal" fill="#2a2a2a" dominant-baseline="central" >4</text>
<line x1="216" y1="531.15" x2="218.5" y2="531.15" stroke="#a0a0a0" stroke-width="0.8"/>
<text x="223.9" y="531.15" font-size="5.8" text-anchor="start" font-weight="normal" fill="#2a2a2a" dominant-baseline="central" >5</text>
<line x1="216" y1="512.42" x2="218.5" y2="512.42" stroke="#a0a0a0" stroke-width="0.8"/>
<text x="223.9" y="512.42" font-size="5.8" text-anchor="start" font-weight="normal" fill="#2a2a2a" dominant-baseline="central" >6</text>
<line x1="216" y1="493.69" x2="218.5" y2="493.69" stroke="#a0a0a0" stroke-width="0.8"/>
<text x="223.9" y="493.69" font-size="5.8" text-anchor="start" font-weight="normal" fill="#2a2a2a" dominant-baseline="central" >7</text>
<line x1="216" y1="474.96" x2="218.5" y2="474.96" stroke="#a0a0a0" stroke-width="0.8"/>
<text x="223.9" y="474.96" font-size="5.8" text-anchor="start" font-weight="normal" fill="#2a2a2a" dominant-baseline="central" >8</text>
<line x1="216" y1="456.23" x2="218.5" y2="456.23" stroke="#a0a0a0" stroke-width="0.8"/>
<text x="223.9" y="456.23" font-size="5.8" text-anchor="start" font-weight="normal" fill="#2a2a2a" dominant-baseline="central" >9</text>
<line x1="216" y1="437.5" x2="218.5" y2="437.5" stroke="#a0a0a0" stroke-width="0.8"/>
<text x="223.9" y="437.5" font-size="5.8" text-anchor="start" font-weight="normal" fill="#2a2a2a" dominant-baseline="central" >10</text>
<text x="5.2" y="637.1" font-size="5.8" text-anchor="middle" font-weight="normal" fill="#2a2a2a" dominant-baseline="central" >-16</text>
<text x="18.38" y="637.1" font-size="5.8" text-anchor="middle" font-weight="normal" fill="#2a2a2a" dominant-baseline="central" >-15</text>
<text x="31.55" y="637.1" font-size="5.8" text-anchor="middle" font-weight="normal" fill="#2a2a2a" dominant-baseline="central" >-14</text>
<text x="44.73" y="637.1" font-size="5.8" text-anchor="middle" font-weight="normal" fill="#2a2a2a" dominant-baseline="central" >-13</text>
<text x="57.9" y="637.1" font-size="5.8" text-anchor="middle" font-weight="normal" fill="#2a2a2a" dominant-baseline="central" >-12</text>
<text x="71.08" y="637.1" font-size="5.8" text-anchor="middle" font-weight="normal" fill="#2a2a2a" dominant-baseline="central" >-11</text>
<text x="84.25" y="637.1" font-size="5.8" text-anchor="middle" font-weight="normal" fill="#2a2a2a" dominant-baseline="central" >-10</text>
<text x="97.43" y="637.1" font-size="5.8" text-anchor="middle" font-weight="normal" fill="#2a2a2a" dominant-baseline="central" >-9</text>
<text x="110.6" y="637.1" font-size="5.8" text-anchor="middle" font-weight="normal" fill="#2a2a2a" dominant-baseline="central" >-8</text>
<text x="123.78" y="637.1" font-size="5.8" text-anchor="middle" font-weight="normal" fill="#2a2a2a" dominant-baseline="central" >-7</text>
<text x="136.95" y="637.1" font-size="5.8" text-anchor="middle" font-weight="normal" fill="#2a2a2a" dominant-baseline="central" >-6</text>
<text x="150.12" y="637.1" font-size="5.8" text-anchor="middle" font-weight="normal" fill="#2a2a2a" dominant-baseline="central" >-5</text>
<text x="163.3" y="637.1" font-size="5.8" text-anchor="middle" font-weight="normal" fill="#2a2a2a" dominant-baseline="central" >-4</text>
<text x="176.47" y="637.1" font-size="5.8" text-anchor="middle" font-weight="normal" fill="#2a2a2a" dominant-baseline="central" >-3</text>
<text x="189.65" y="637.1" font-size="5.8" text-anchor="middle" font-weight="normal" fill="#2a2a2a" dominant-baseline="central" >-2</text>
<text x="202.82" y="637.1" font-size="5.8" text-anchor="middle" font-weight="normal" fill="#2a2a2a" dominant-baseline="central" >-1</text>
<text x="216" y="637.1" font-size="5.8" text-anchor="middle" font-weight="normal" fill="#2a2a2a" dominant-baseline="central" >0</text>
<text x="59.5" y="652.4" font-size="6.2" font-weight="bold" fill="#2a2a2a" dominant-baseline="central" textLength="101.75" lengthAdjust="spacingAndGlyphs">Years prior to the diagnosis of myeloma</text>
<text transform="translate(240.65,534.65) rotate(-90)" x="0" y="0" font-size="6.15" text-anchor="middle" fill="#2a2a2a" stroke="#333" stroke-width="0.04" dominant-baseline="central" textLength="141.5" lengthAdjust="spacingAndGlyphs">Involved Serum Free Light Chain Ratio (kappa/lambda)</text>
<text transform="translate(247.85,534.15) rotate(-90)" x="0" y="0" font-size="6.15" text-anchor="middle" fill="#2a2a2a" stroke="#333" stroke-width="0.04" dominant-baseline="central" textLength="112.3" lengthAdjust="spacingAndGlyphs">Monoclonal Immunoglobulin Level (gm/dL)</text>
<text transform="translate(3.51,451.32) scale(0.9085,1)" x="0" y="0" font-size="15.43" font-weight="bold" fill="#000" stroke="#000" stroke-width="0.35">E</text>
<line x1="18.75" y1="473" x2="45" y2="473" stroke="#111" stroke-width="1.1"/>
<path d="M32,471.48 L33.6,474.52 L30.4,474.52 Z" fill="#111"/>
<text x="48" y="473" font-size="4.5" text-anchor="start" font-weight="normal" fill="#444" dominant-baseline="central" textLength="24" lengthAdjust="spacingAndGlyphs">iFLC ratio</text>
<line x1="18.75" y1="481.75" x2="45" y2="481.75" stroke="#111" stroke-width="1.2" stroke-dasharray="4,3"/>
<circle cx="32" cy="481.75" r="1.5" fill="#111"/>
<text x="48" y="481.75" font-size="4.5" text-anchor="start" font-weight="normal" fill="#444" dominant-baseline="central" textLength="12" lengthAdjust="spacingAndGlyphs">M-Ig</text>
<path d="M93.8,569.8 L167.3,452.6" fill="none" stroke="#111" stroke-width="1.2"/>
<path d="M93.8,608.7 L167,585.5 L216,531.25" fill="none" stroke="#111" stroke-width="1.3" stroke-dasharray="3.5,2"/>
<path d="M93.8,567.83 L95.87,571.77 L91.73,571.77 Z" fill="#111"/>
<path d="M167.3,450.63 L169.37,454.57 L165.23,454.57 Z" fill="#111"/>
<circle cx="93.8" cy="608.7" r="2.2" fill="#111"/>
<circle cx="167" cy="585.5" r="2.2" fill="#111"/>
<circle cx="216" cy="531.25" r="2.2" fill="#111"/>
<line x1="271.25" y1="619.13" x2="480.6" y2="619.13" stroke="#b4b4b4" stroke-width="1"/>
<line x1="271.25" y1="595.86" x2="480.6" y2="595.86" stroke="#b4b4b4" stroke-width="1"/>
<line x1="271.25" y1="572.59" x2="480.6" y2="572.59" stroke="#b4b4b4" stroke-width="1"/>
<line x1="271.25" y1="549.33" x2="480.6" y2="549.33" stroke="#b4b4b4" stroke-width="1"/>
<line x1="271.25" y1="526.06" x2="480.6" y2="526.06" stroke="#b4b4b4" stroke-width="1"/>
<line x1="271.25" y1="502.79" x2="480.6" y2="502.79" stroke="#b4b4b4" stroke-width="1"/>
<line x1="271.25" y1="479.52" x2="480.6" y2="479.52" stroke="#b4b4b4" stroke-width="1"/>
<line x1="271.25" y1="456.25" x2="480.6" y2="456.25" stroke="#b4b4b4" stroke-width="1"/>
<line x1="271.25" y1="642.4" x2="482.6" y2="642.4" stroke="#a0a0a0" stroke-width="1"/>
<line x1="271.25" y1="642.4" x2="271.25" y2="644.4" stroke="#a0a0a0" stroke-width="0.8"/>
<line x1="284.33" y1="642.4" x2="284.33" y2="644.4" stroke="#a0a0a0" stroke-width="0.8"/>
<line x1="297.42" y1="642.4" x2="297.42" y2="644.4" stroke="#a0a0a0" stroke-width="0.8"/>
<line x1="310.5" y1="642.4" x2="310.5" y2="644.4" stroke="#a0a0a0" stroke-width="0.8"/>
<line x1="323.59" y1="642.4" x2="323.59" y2="644.4" stroke="#a0a0a0" stroke-width="0.8"/>
<line x1="336.67" y1="642.4" x2="336.67" y2="644.4" stroke="#a0a0a0" stroke-width="0.8"/>
<line x1="349.76" y1="642.4" x2="349.76" y2="644.4" stroke="#a0a0a0" stroke-width="0.8"/>
<line x1="362.84" y1="642.4" x2="362.84" y2="644.4" stroke="#a0a0a0" stroke-width="0.8"/>
<line x1="375.93" y1="642.4" x2="375.93" y2="644.4" stroke="#a0a0a0" stroke-width="0.8"/>
<line x1="389.01" y1="642.4" x2="389.01" y2="644.4" stroke="#a0a0a0" stroke-width="0.8"/>
<line x1="402.09" y1="642.4" x2="402.09" y2="644.4" stroke="#a0a0a0" stroke-width="0.8"/>
<line x1="415.18" y1="642.4" x2="415.18" y2="644.4" stroke="#a0a0a0" stroke-width="0.8"/>
<line x1="428.26" y1="642.4" x2="428.26" y2="644.4" stroke="#a0a0a0" stroke-width="0.8"/>
<line x1="441.35" y1="642.4" x2="441.35" y2="644.4" stroke="#a0a0a0" stroke-width="0.8"/>
<line x1="454.43" y1="642.4" x2="454.43" y2="644.4" stroke="#a0a0a0" stroke-width="0.8"/>
<line x1="467.52" y1="642.4" x2="467.52" y2="644.4" stroke="#a0a0a0" stroke-width="0.8"/>
<line x1="480.6" y1="642.4" x2="480.6" y2="644.4" stroke="#a0a0a0" stroke-width="0.8"/>
<line x1="480.6" y1="456.25" x2="480.6" y2="644.4" stroke="#a0a0a0" stroke-width="1"/>
<line x1="478.1" y1="642.4" x2="480.6" y2="642.4" stroke="#a0a0a0" stroke-width="0.8"/>
<text x="473.1" y="642.4" font-size="5.6" text-anchor="end" font-weight="normal" fill="#2a2a2a" dominant-baseline="central" >0</text>
<line x1="478.1" y1="619.13" x2="480.6" y2="619.13" stroke="#a0a0a0" stroke-width="0.8"/>
<text x="473.1" y="619.13" font-size="5.6" text-anchor="end" font-weight="normal" fill="#2a2a2a" dominant-baseline="central" >0.5</text>
<line x1="478.1" y1="595.86" x2="480.6" y2="595.86" stroke="#a0a0a0" stroke-width="0.8"/>
<text x="473.1" y="595.86" font-size="5.6" text-anchor="end" font-weight="normal" fill="#2a2a2a" dominant-baseline="central" >1</text>
<line x1="478.1" y1="572.59" x2="480.6" y2="572.59" stroke="#a0a0a0" stroke-width="0.8"/>
<text x="473.1" y="572.59" font-size="5.6" text-anchor="end" font-weight="normal" fill="#2a2a2a" dominant-baseline="central" >1.5</text>
<line x1="478.1" y1="549.33" x2="480.6" y2="549.33" stroke="#a0a0a0" stroke-width="0.8"/>
<text x="473.1" y="549.33" font-size="5.6" text-anchor="end" font-weight="normal" fill="#2a2a2a" dominant-baseline="central" >2</text>
<line x1="478.1" y1="526.06" x2="480.6" y2="526.06" stroke="#a0a0a0" stroke-width="0.8"/>
<text x="473.1" y="526.06" font-size="5.6" text-anchor="end" font-weight="normal" fill="#2a2a2a" dominant-baseline="central" >2.5</text>
<line x1="478.1" y1="502.79" x2="480.6" y2="502.79" stroke="#a0a0a0" stroke-width="0.8"/>
<text x="473.1" y="502.79" font-size="5.6" text-anchor="end" font-weight="normal" fill="#2a2a2a" dominant-baseline="central" >3</text>
<line x1="478.1" y1="479.52" x2="480.6" y2="479.52" stroke="#a0a0a0" stroke-width="0.8"/>
<text x="473.1" y="479.52" font-size="5.6" text-anchor="end" font-weight="normal" fill="#2a2a2a" dominant-baseline="central" >3.5</text>
<line x1="478.1" y1="456.25" x2="480.6" y2="456.25" stroke="#a0a0a0" stroke-width="0.8"/>
<text x="473.1" y="456.25" font-size="5.6" text-anchor="end" font-weight="normal" fill="#2a2a2a" dominant-baseline="central" >4</text>
<line x1="480.6" y1="642.4" x2="483.1" y2="642.4" stroke="#a0a0a0" stroke-width="0.8"/>
<text x="488.9" y="642.4" font-size="5.6" text-anchor="start" font-weight="normal" fill="#2a2a2a" dominant-baseline="central" >0</text>
<line x1="480.6" y1="623.78" x2="483.1" y2="623.78" stroke="#a0a0a0" stroke-width="0.8"/>
<text x="488.9" y="623.78" font-size="5.6" text-anchor="start" font-weight="normal" fill="#2a2a2a" dominant-baseline="central" >1</text>
<line x1="480.6" y1="605.17" x2="483.1" y2="605.17" stroke="#a0a0a0" stroke-width="0.8"/>
<text x="488.9" y="605.17" font-size="5.6" text-anchor="start" font-weight="normal" fill="#2a2a2a" dominant-baseline="central" >2</text>
<line x1="480.6" y1="586.55" x2="483.1" y2="586.55" stroke="#a0a0a0" stroke-width="0.8"/>
<text x="488.9" y="586.55" font-size="5.6" text-anchor="start" font-weight="normal" fill="#2a2a2a" dominant-baseline="central" >3</text>
<line x1="480.6" y1="567.94" x2="483.1" y2="567.94" stroke="#a0a0a0" stroke-width="0.8"/>
<text x="488.9" y="567.94" font-size="5.6" text-anchor="start" font-weight="normal" fill="#2a2a2a" dominant-baseline="central" >4</text>
<line x1="480.6" y1="549.33" x2="483.1" y2="549.33" stroke="#a0a0a0" stroke-width="0.8"/>
<text x="488.9" y="549.33" font-size="5.6" text-anchor="start" font-weight="normal" fill="#2a2a2a" dominant-baseline="central" >5</text>
<line x1="480.6" y1="530.71" x2="483.1" y2="530.71" stroke="#a0a0a0" stroke-width="0.8"/>
<text x="488.9" y="530.71" font-size="5.6" text-anchor="start" font-weight="normal" fill="#2a2a2a" dominant-baseline="central" >6</text>
<line x1="480.6" y1="512.1" x2="483.1" y2="512.1" stroke="#a0a0a0" stroke-width="0.8"/>
<text x="488.9" y="512.1" font-size="5.6" text-anchor="start" font-weight="normal" fill="#2a2a2a" dominant-baseline="central" >7</text>
<line x1="480.6" y1="493.48" x2="483.1" y2="493.48" stroke="#a0a0a0" stroke-width="0.8"/>
<text x="488.9" y="493.48" font-size="5.6" text-anchor="start" font-weight="normal" fill="#2a2a2a" dominant-baseline="central" >8</text>
<line x1="480.6" y1="474.87" x2="483.1" y2="474.87" stroke="#a0a0a0" stroke-width="0.8"/>
<text x="488.9" y="474.87" font-size="5.6" text-anchor="start" font-weight="normal" fill="#2a2a2a" dominant-baseline="central" >9</text>
<line x1="480.6" y1="456.25" x2="483.1" y2="456.25" stroke="#a0a0a0" stroke-width="0.8"/>
<text x="488.9" y="456.25" font-size="5.6" text-anchor="start" font-weight="normal" fill="#2a2a2a" dominant-baseline="central" >10</text>
<text x="271.25" y="654.5" font-size="5.6" text-anchor="middle" font-weight="normal" fill="#2a2a2a" dominant-baseline="central" >-16</text>
<text x="284.33" y="654.5" font-size="5.6" text-anchor="middle" font-weight="normal" fill="#2a2a2a" dominant-baseline="central" >-15</text>
<text x="297.42" y="654.5" font-size="5.6" text-anchor="middle" font-weight="normal" fill="#2a2a2a" dominant-baseline="central" >-14</text>
<text x="310.5" y="654.5" font-size="5.6" text-anchor="middle" font-weight="normal" fill="#2a2a2a" dominant-baseline="central" >-13</text>
<text x="323.59" y="654.5" font-size="5.6" text-anchor="middle" font-weight="normal" fill="#2a2a2a" dominant-baseline="central" >-12</text>
<text x="336.67" y="654.5" font-size="5.6" text-anchor="middle" font-weight="normal" fill="#2a2a2a" dominant-baseline="central" >-11</text>
<text x="349.76" y="654.5" font-size="5.6" text-anchor="middle" font-weight="normal" fill="#2a2a2a" dominant-baseline="central" >-10</text>
<text x="362.84" y="654.5" font-size="5.6" text-anchor="middle" font-weight="normal" fill="#2a2a2a" dominant-baseline="central" >-9</text>
<text x="375.93" y="654.5" font-size="5.6" text-anchor="middle" font-weight="normal" fill="#2a2a2a" dominant-baseline="central" >-8</text>
<text x="389.01" y="654.5" font-size="5.6" text-anchor="middle" font-weight="normal" fill="#2a2a2a" dominant-baseline="central" >-7</text>
<text x="402.09" y="654.5" font-size="5.6" text-anchor="middle" font-weight="normal" fill="#2a2a2a" dominant-baseline="central" >-6</text>
<text x="415.18" y="654.5" font-size="5.6" text-anchor="middle" font-weight="normal" fill="#2a2a2a" dominant-baseline="central" >-5</text>
<text x="428.26" y="654.5" font-size="5.6" text-anchor="middle" font-weight="normal" fill="#2a2a2a" dominant-baseline="central" >-4</text>
<text x="441.35" y="654.5" font-size="5.6" text-anchor="middle" font-weight="normal" fill="#2a2a2a" dominant-baseline="central" >-3</text>
<text x="454.43" y="654.5" font-size="5.6" text-anchor="middle" font-weight="normal" fill="#2a2a2a" dominant-baseline="central" >-2</text>
<text x="467.52" y="654.5" font-size="5.6" text-anchor="middle" font-weight="normal" fill="#2a2a2a" dominant-baseline="central" >-1</text>
<text x="480.6" y="654.5" font-size="5.6" text-anchor="middle" font-weight="normal" fill="#2a2a2a" dominant-baseline="central" >0</text>
<text x="325" y="668.85" font-size="6.2" font-weight="bold" fill="#2a2a2a" dominant-baseline="central" textLength="102.4" lengthAdjust="spacingAndGlyphs">Years prior to the diagnosis of myeloma</text>
<text transform="translate(507.55,551.4) rotate(-90)" x="0" y="0" font-size="6.12" text-anchor="middle" fill="#2a2a2a" stroke="#333" stroke-width="0.04" dominant-baseline="central" textLength="140.8" lengthAdjust="spacingAndGlyphs">Involved Serum Free Light Chain Ratio (lambda/kappa)</text>
<text transform="translate(514.97,550.88) rotate(-90)" x="0" y="0" font-size="6.12" text-anchor="middle" fill="#2a2a2a" stroke="#333" stroke-width="0.04" dominant-baseline="central" textLength="111.55" lengthAdjust="spacingAndGlyphs">Monoclonal Immunoglobulin Level (gm/dL)</text>
<text transform="translate(269.48,470.31) scale(0.9880,1)" x="0" y="0" font-size="14.7" font-weight="bold" fill="#000" stroke="#000" stroke-width="0.35">F</text>
<line x1="282" y1="486.25" x2="307.5" y2="486.25" stroke="#111" stroke-width="1.1"/>
<path d="M295,484.73 L296.6,487.77 L293.4,487.77 Z" fill="#111"/>
<text x="311.25" y="486.25" font-size="4.5" text-anchor="start" font-weight="normal" fill="#444" dominant-baseline="central" textLength="23.75" lengthAdjust="spacingAndGlyphs">iFLC ratio</text>
<line x1="282" y1="495" x2="307.5" y2="495" stroke="#111" stroke-width="1.2" stroke-dasharray="4,3"/>
<circle cx="295" cy="495" r="1.5" fill="#111"/>
<text x="311.25" y="495" font-size="4.5" text-anchor="start" font-weight="normal" fill="#444" dominant-baseline="central" textLength="11.25" lengthAdjust="spacingAndGlyphs">M-Ig</text>
<path d="M340.9,538.6 L354.2,523.8 L362.5,519.4 L406.75,570 L420.5,532.5 L447.7,473" fill="none" stroke="#111" stroke-width="1.2"/>
<path d="M340.5,624.25 L354.25,627.5 L362.5,624.25 L406.75,622.5 L420,617.5 L448,620.5 L481,561.75" fill="none" stroke="#111" stroke-width="1.3" stroke-dasharray="3.5,2"/>
<path d="M340.9,536.74 L342.86,540.46 L338.94,540.46 Z" fill="#111"/>
<path d="M354.2,521.94 L356.16,525.66 L352.24,525.66 Z" fill="#111"/>
<path d="M362.5,517.54 L364.46,521.26 L360.54,521.26 Z" fill="#111"/>
<path d="M406.75,568.14 L408.71,571.86 L404.79,571.86 Z" fill="#111"/>
<path d="M420.5,530.64 L422.46,534.36 L418.54,534.36 Z" fill="#111"/>
<path d="M447.7,471.14 L449.66,474.86 L445.74,474.86 Z" fill="#111"/>
<circle cx="340.5" cy="624.25" r="2.2" fill="#111"/>
<circle cx="354.25" cy="627.5" r="2.2" fill="#111"/>
<circle cx="362.5" cy="624.25" r="2.2" fill="#111"/>
<circle cx="406.75" cy="622.5" r="2.2" fill="#111"/>
<circle cx="420" cy="617.5" r="2.2" fill="#111"/>
<circle cx="448" cy="620.5" r="2.2" fill="#111"/>
<circle cx="481" cy="561.75" r="2.2" fill="#111"/>
<line x1="6" y1="857.76" x2="210.2" y2="857.76" stroke="#b4b4b4" stroke-width="1"/>
<line x1="6" y1="839.12" x2="210.2" y2="839.12" stroke="#b4b4b4" stroke-width="1"/>
<line x1="6" y1="820.48" x2="210.2" y2="820.48" stroke="#b4b4b4" stroke-width="1"/>
<line x1="6" y1="801.84" x2="210.2" y2="801.84" stroke="#b4b4b4" stroke-width="1"/>
<line x1="6" y1="783.2" x2="210.2" y2="783.2" stroke="#b4b4b4" stroke-width="1"/>
<line x1="6" y1="764.56" x2="210.2" y2="764.56" stroke="#b4b4b4" stroke-width="1"/>
<line x1="6" y1="745.92" x2="210.2" y2="745.92" stroke="#b4b4b4" stroke-width="1"/>
<line x1="6" y1="727.28" x2="210.2" y2="727.28" stroke="#b4b4b4" stroke-width="1"/>
<line x1="6" y1="708.64" x2="210.2" y2="708.64" stroke="#b4b4b4" stroke-width="1"/>
<line x1="6" y1="690" x2="210.2" y2="690" stroke="#b4b4b4" stroke-width="1"/>
<line x1="6" y1="876.4" x2="212.2" y2="876.4" stroke="#a0a0a0" stroke-width="1"/>
<line x1="6" y1="876.4" x2="6" y2="878.4" stroke="#a0a0a0" stroke-width="0.8"/>
<line x1="18.76" y1="876.4" x2="18.76" y2="878.4" stroke="#a0a0a0" stroke-width="0.8"/>
<line x1="31.52" y1="876.4" x2="31.52" y2="878.4" stroke="#a0a0a0" stroke-width="0.8"/>
<line x1="44.29" y1="876.4" x2="44.29" y2="878.4" stroke="#a0a0a0" stroke-width="0.8"/>
<line x1="57.05" y1="876.4" x2="57.05" y2="878.4" stroke="#a0a0a0" stroke-width="0.8"/>
<line x1="69.81" y1="876.4" x2="69.81" y2="878.4" stroke="#a0a0a0" stroke-width="0.8"/>
<line x1="82.57" y1="876.4" x2="82.57" y2="878.4" stroke="#a0a0a0" stroke-width="0.8"/>
<line x1="95.34" y1="876.4" x2="95.34" y2="878.4" stroke="#a0a0a0" stroke-width="0.8"/>
<line x1="108.1" y1="876.4" x2="108.1" y2="878.4" stroke="#a0a0a0" stroke-width="0.8"/>
<line x1="120.86" y1="876.4" x2="120.86" y2="878.4" stroke="#a0a0a0" stroke-width="0.8"/>
<line x1="133.62" y1="876.4" x2="133.62" y2="878.4" stroke="#a0a0a0" stroke-width="0.8"/>
<line x1="146.39" y1="876.4" x2="146.39" y2="878.4" stroke="#a0a0a0" stroke-width="0.8"/>
<line x1="159.15" y1="876.4" x2="159.15" y2="878.4" stroke="#a0a0a0" stroke-width="0.8"/>
<line x1="171.91" y1="876.4" x2="171.91" y2="878.4" stroke="#a0a0a0" stroke-width="0.8"/>
<line x1="184.67" y1="876.4" x2="184.67" y2="878.4" stroke="#a0a0a0" stroke-width="0.8"/>
<line x1="197.44" y1="876.4" x2="197.44" y2="878.4" stroke="#a0a0a0" stroke-width="0.8"/>
<line x1="210.2" y1="876.4" x2="210.2" y2="878.4" stroke="#a0a0a0" stroke-width="0.8"/>
<line x1="210.2" y1="690" x2="210.2" y2="878.4" stroke="#a0a0a0" stroke-width="1"/>
<line x1="207.7" y1="876.4" x2="210.2" y2="876.4" stroke="#a0a0a0" stroke-width="0.8"/>
<text x="203" y="876.4" font-size="5.8" text-anchor="end" font-weight="normal" fill="#2a2a2a" dominant-baseline="central" >0</text>
<line x1="207.7" y1="857.76" x2="210.2" y2="857.76" stroke="#a0a0a0" stroke-width="0.8"/>
<text x="203" y="857.76" font-size="5.8" text-anchor="end" font-weight="normal" fill="#2a2a2a" dominant-baseline="central" >20</text>
<line x1="207.7" y1="839.12" x2="210.2" y2="839.12" stroke="#a0a0a0" stroke-width="0.8"/>
<text x="203" y="839.12" font-size="5.8" text-anchor="end" font-weight="normal" fill="#2a2a2a" dominant-baseline="central" >40</text>
<line x1="207.7" y1="820.48" x2="210.2" y2="820.48" stroke="#a0a0a0" stroke-width="0.8"/>
<text x="203" y="820.48" font-size="5.8" text-anchor="end" font-weight="normal" fill="#2a2a2a" dominant-baseline="central" >60</text>
<line x1="207.7" y1="801.84" x2="210.2" y2="801.84" stroke="#a0a0a0" stroke-width="0.8"/>
<text x="203" y="801.84" font-size="5.8" text-anchor="end" font-weight="normal" fill="#2a2a2a" dominant-baseline="central" >80</text>
<line x1="207.7" y1="783.2" x2="210.2" y2="783.2" stroke="#a0a0a0" stroke-width="0.8"/>
<text x="203" y="783.2" font-size="5.8" text-anchor="end" font-weight="normal" fill="#2a2a2a" dominant-baseline="central" >100</text>
<line x1="207.7" y1="764.56" x2="210.2" y2="764.56" stroke="#a0a0a0" stroke-width="0.8"/>
<text x="203" y="764.56" font-size="5.8" text-anchor="end" font-weight="normal" fill="#2a2a2a" dominant-baseline="central" >120</text>
<line x1="207.7" y1="745.92" x2="210.2" y2="745.92" stroke="#a0a0a0" stroke-width="0.8"/>
<text x="203" y="745.92" font-size="5.8" text-anchor="end" font-weight="normal" fill="#2a2a2a" dominant-baseline="central" >140</text>
<line x1="207.7" y1="727.28" x2="210.2" y2="727.28" stroke="#a0a0a0" stroke-width="0.8"/>
<text x="203" y="727.28" font-size="5.8" text-anchor="end" font-weight="normal" fill="#2a2a2a" dominant-baseline="central" >160</text>
<line x1="207.7" y1="708.64" x2="210.2" y2="708.64" stroke="#a0a0a0" stroke-width="0.8"/>
<text x="203" y="708.64" font-size="5.8" text-anchor="end" font-weight="normal" fill="#2a2a2a" dominant-baseline="central" >180</text>
<line x1="207.7" y1="690" x2="210.2" y2="690" stroke="#a0a0a0" stroke-width="0.8"/>
<text x="203" y="690" font-size="5.8" text-anchor="end" font-weight="normal" fill="#2a2a2a" dominant-baseline="central" >200</text>
<line x1="210.2" y1="876.4" x2="212.7" y2="876.4" stroke="#a0a0a0" stroke-width="0.8"/>
<text x="217.8" y="876.4" font-size="5.8" text-anchor="start" font-weight="normal" fill="#2a2a2a" dominant-baseline="central" >0</text>
<line x1="210.2" y1="857.76" x2="212.7" y2="857.76" stroke="#a0a0a0" stroke-width="0.8"/>
<text x="217.8" y="857.76" font-size="5.8" text-anchor="start" font-weight="normal" fill="#2a2a2a" dominant-baseline="central" >100</text>
<line x1="210.2" y1="839.12" x2="212.7" y2="839.12" stroke="#a0a0a0" stroke-width="0.8"/>
<text x="217.8" y="839.12" font-size="5.8" text-anchor="start" font-weight="normal" fill="#2a2a2a" dominant-baseline="central" >200</text>
<line x1="210.2" y1="820.48" x2="212.7" y2="820.48" stroke="#a0a0a0" stroke-width="0.8"/>
<text x="217.8" y="820.48" font-size="5.8" text-anchor="start" font-weight="normal" fill="#2a2a2a" dominant-baseline="central" >300</text>
<line x1="210.2" y1="801.84" x2="212.7" y2="801.84" stroke="#a0a0a0" stroke-width="0.8"/>
<text x="217.8" y="801.84" font-size="5.8" text-anchor="start" font-weight="normal" fill="#2a2a2a" dominant-baseline="central" >400</text>
<line x1="210.2" y1="783.2" x2="212.7" y2="783.2" stroke="#a0a0a0" stroke-width="0.8"/>
<text x="217.8" y="783.2" font-size="5.8" text-anchor="start" font-weight="normal" fill="#2a2a2a" dominant-baseline="central" >500</text>
<line x1="210.2" y1="764.56" x2="212.7" y2="764.56" stroke="#a0a0a0" stroke-width="0.8"/>
<text x="217.8" y="764.56" font-size="5.8" text-anchor="start" font-weight="normal" fill="#2a2a2a" dominant-baseline="central" >600</text>
<line x1="210.2" y1="745.92" x2="212.7" y2="745.92" stroke="#a0a0a0" stroke-width="0.8"/>
<text x="217.8" y="745.92" font-size="5.8" text-anchor="start" font-weight="normal" fill="#2a2a2a" dominant-baseline="central" >700</text>
<line x1="210.2" y1="727.28" x2="212.7" y2="727.28" stroke="#a0a0a0" stroke-width="0.8"/>
<text x="217.8" y="727.28" font-size="5.8" text-anchor="start" font-weight="normal" fill="#2a2a2a" dominant-baseline="central" >800</text>
<line x1="210.2" y1="708.64" x2="212.7" y2="708.64" stroke="#a0a0a0" stroke-width="0.8"/>
<text x="217.8" y="708.64" font-size="5.8" text-anchor="start" font-weight="normal" fill="#2a2a2a" dominant-baseline="central" >900</text>
<line x1="210.2" y1="690" x2="212.7" y2="690" stroke="#a0a0a0" stroke-width="0.8"/>
<text x="217.8" y="690" font-size="5.8" text-anchor="start" font-weight="normal" fill="#2a2a2a" dominant-baseline="central" >1000</text>
<text x="6" y="888.75" font-size="5.8" text-anchor="middle" font-weight="normal" fill="#2a2a2a" dominant-baseline="central" >-16</text>
<text x="18.76" y="888.75" font-size="5.8" text-anchor="middle" font-weight="normal" fill="#2a2a2a" dominant-baseline="central" >-15</text>
<text x="31.52" y="888.75" font-size="5.8" text-anchor="middle" font-weight="normal" fill="#2a2a2a" dominant-baseline="central" >-14</text>
<text x="44.29" y="888.75" font-size="5.8" text-anchor="middle" font-weight="normal" fill="#2a2a2a" dominant-baseline="central" >-13</text>
<text x="57.05" y="888.75" font-size="5.8" text-anchor="middle" font-weight="normal" fill="#2a2a2a" dominant-baseline="central" >-12</text>
<text x="69.81" y="888.75" font-size="5.8" text-anchor="middle" font-weight="normal" fill="#2a2a2a" dominant-baseline="central" >-11</text>
<text x="82.57" y="888.75" font-size="5.8" text-anchor="middle" font-weight="normal" fill="#2a2a2a" dominant-baseline="central" >-10</text>
<text x="95.34" y="888.75" font-size="5.8" text-anchor="middle" font-weight="normal" fill="#2a2a2a" dominant-baseline="central" >-9</text>
<text x="108.1" y="888.75" font-size="5.8" text-anchor="middle" font-weight="normal" fill="#2a2a2a" dominant-baseline="central" >-8</text>
<text x="120.86" y="888.75" font-size="5.8" text-anchor="middle" font-weight="normal" fill="#2a2a2a" dominant-baseline="central" >-7</text>
<text x="133.62" y="888.75" font-size="5.8" text-anchor="middle" font-weight="normal" fill="#2a2a2a" dominant-baseline="central" >-6</text>
<text x="146.39" y="888.75" font-size="5.8" text-anchor="middle" font-weight="normal" fill="#2a2a2a" dominant-baseline="central" >-5</text>
<text x="159.15" y="888.75" font-size="5.8" text-anchor="middle" font-weight="normal" fill="#2a2a2a" dominant-baseline="central" >-4</text>
<text x="171.91" y="888.75" font-size="5.8" text-anchor="middle" font-weight="normal" fill="#2a2a2a" dominant-baseline="central" >-3</text>
<text x="184.67" y="888.75" font-size="5.8" text-anchor="middle" font-weight="normal" fill="#2a2a2a" dominant-baseline="central" >-2</text>
<text x="197.44" y="888.75" font-size="5.8" text-anchor="middle" font-weight="normal" fill="#2a2a2a" dominant-baseline="central" >-1</text>
<text x="210.2" y="888.75" font-size="5.8" text-anchor="middle" font-weight="normal" fill="#2a2a2a" dominant-baseline="central" >0</text>
<text x="57" y="902.15" font-size="6.2" font-weight="bold" fill="#2a2a2a" dominant-baseline="central" textLength="103" lengthAdjust="spacingAndGlyphs">Years prior to the diagnosis of myeloma</text>
<text transform="translate(242.27,792.65) rotate(-90)" x="0" y="0" font-size="6.13" text-anchor="middle" fill="#2a2a2a" stroke="#333" stroke-width="0.04" dominant-baseline="central" textLength="141.1" lengthAdjust="spacingAndGlyphs">Involved Serum Free Light Chain Ratio (kappa/lambda)</text>
<text transform="translate(248.84,792.4) rotate(-90)" x="0" y="0" font-size="6.13" text-anchor="middle" fill="#2a2a2a" stroke="#333" stroke-width="0.04" dominant-baseline="central" textLength="120.8" lengthAdjust="spacingAndGlyphs">Involved Serum Free Light Chain (kappa, mg/L)</text>
<text transform="translate(4.5,702.72) scale(0.9642,1)" x="0" y="0" font-size="14" font-weight="bold" fill="#000" stroke="#000" stroke-width="0.35">G</text>
<line x1="20.5" y1="713" x2="46.25" y2="713" stroke="#111" stroke-width="1.1"/>
<path d="M33.25,711.48 L34.85,714.52 L31.65,714.52 Z" fill="#111"/>
<text x="49.5" y="713" font-size="4.5" text-anchor="start" font-weight="normal" fill="#444" dominant-baseline="central" textLength="23.5" lengthAdjust="spacingAndGlyphs">iFLC ratio</text>
<line x1="20.5" y1="721.6" x2="46.25" y2="721.6" stroke="#111" stroke-width="1.2" stroke-dasharray="4,3"/>
<circle cx="33.25" cy="721.6" r="1.5" fill="#111"/>
<text x="49.5" y="721.6" font-size="4.5" text-anchor="start" font-weight="normal" fill="#444" dominant-baseline="central" textLength="10.5" lengthAdjust="spacingAndGlyphs">iFLC</text>
<path d="M98.75,869 L111.3,870.6 L139.5,860.5 L153.75,824.5 L170.5,735.5" fill="none" stroke="#111" stroke-width="1.2"/>
<path d="M98.75,864.9 L111.3,867.2 L139.5,858 L153.75,836.25 L170,786.75" fill="none" stroke="#111" stroke-width="1.3" stroke-dasharray="3.5,2"/>
<path d="M98.75,866.45 L101.44,871.55 L96.06,871.55 Z" fill="#111"/>
<path d="M111.3,868.05 L113.99,873.15 L108.61,873.15 Z" fill="#111"/>
<path d="M139.5,857.95 L142.19,863.05 L136.81,863.05 Z" fill="#111"/>
<path d="M153.75,821.95 L156.44,827.05 L151.06,827.05 Z" fill="#111"/>
<path d="M170.5,732.95 L173.19,738.05 L167.81,738.05 Z" fill="#111"/>
<circle cx="98.75" cy="864.9" r="2.2" fill="#111"/>
<circle cx="111.3" cy="867.2" r="2.2" fill="#111"/>
<circle cx="139.5" cy="858" r="2.2" fill="#111"/>
<circle cx="153.75" cy="836.25" r="2.2" fill="#111"/>
<circle cx="170" cy="786.75" r="2.2" fill="#111"/>
</svg>
</body></html>
